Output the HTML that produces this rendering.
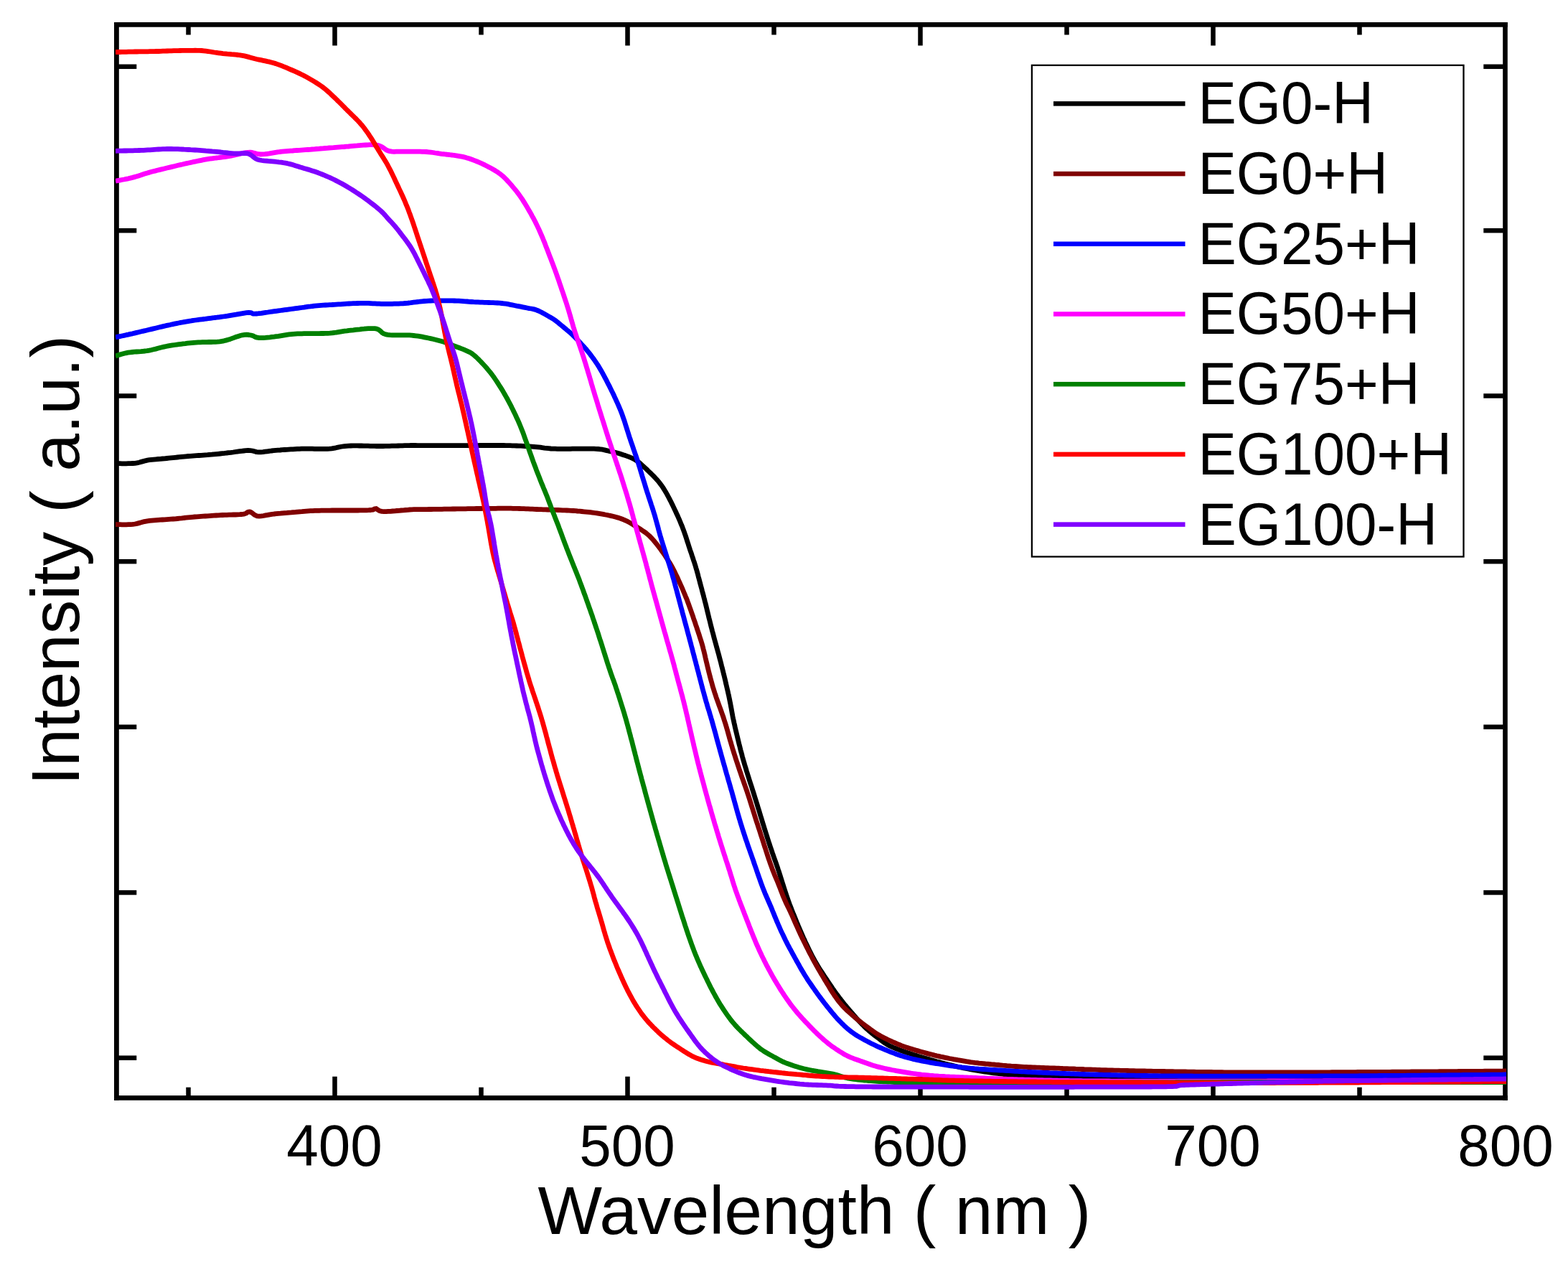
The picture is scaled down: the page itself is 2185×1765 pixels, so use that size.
<!DOCTYPE html>
<html><head><meta charset="utf-8"><title>Intensity vs Wavelength</title>
<style>html,body{margin:0;padding:0;background:#fff;}svg{display:block;}</style></head><body>
<svg width="2185" height="1765" viewBox="0 0 2185 1765">
<rect x="0" y="0" width="2185" height="1765" fill="#fff"/>
<g fill="#000">
<rect x="159" y="31" width="1941.8" height="6.7"/>
<rect x="159" y="1526.1" width="1941.8" height="6.7"/>
<rect x="159" y="31" width="6.8" height="1501.8"/>
<rect x="2094.2" y="31" width="6.6" height="1501.8"/>
<rect x="165" y="89.55" width="25.3" height="6.5"/>
<rect x="2067.3" y="89.55" width="27.5" height="6.5"/>
<rect x="165" y="317.95" width="25.3" height="6.5"/>
<rect x="2067.3" y="317.95" width="27.5" height="6.5"/>
<rect x="165" y="548.25" width="25.3" height="6.5"/>
<rect x="2067.3" y="548.25" width="27.5" height="6.5"/>
<rect x="165" y="778.95" width="25.3" height="6.5"/>
<rect x="2067.3" y="778.95" width="27.5" height="6.5"/>
<rect x="165" y="1009.45" width="25.3" height="6.5"/>
<rect x="2067.3" y="1009.45" width="27.5" height="6.5"/>
<rect x="165" y="1240.15" width="25.3" height="6.5"/>
<rect x="2067.3" y="1240.15" width="27.5" height="6.5"/>
<rect x="165" y="1470.45" width="25.3" height="6.5"/>
<rect x="2067.3" y="1470.45" width="27.5" height="6.5"/>
<rect x="259.25" y="1514.70" width="6.5" height="12.50"/>
<rect x="259.25" y="37" width="6.5" height="11.50"/>
<rect x="463.25" y="1499.70" width="6.5" height="27.50"/>
<rect x="463.25" y="37" width="6.5" height="26.50"/>
<rect x="667.25" y="1514.70" width="6.5" height="12.50"/>
<rect x="667.25" y="37" width="6.5" height="11.50"/>
<rect x="871.25" y="1499.70" width="6.5" height="27.50"/>
<rect x="871.25" y="37" width="6.5" height="26.50"/>
<rect x="1075.25" y="1514.70" width="6.5" height="12.50"/>
<rect x="1075.25" y="37" width="6.5" height="11.50"/>
<rect x="1279.25" y="1499.70" width="6.5" height="27.50"/>
<rect x="1279.25" y="37" width="6.5" height="26.50"/>
<rect x="1483.25" y="1514.70" width="6.5" height="12.50"/>
<rect x="1483.25" y="37" width="6.5" height="11.50"/>
<rect x="1687.25" y="1499.70" width="6.5" height="27.50"/>
<rect x="1687.25" y="37" width="6.5" height="26.50"/>
<rect x="1891.25" y="1514.70" width="6.5" height="12.50"/>
<rect x="1891.25" y="37" width="6.5" height="11.50"/>
</g>
<defs><clipPath id="pa"><rect x="161" y="37.6" width="1938" height="1488.6"/></clipPath></defs>
<g clip-path="url(#pa)" fill="none" stroke-width="6.8" stroke-linejoin="round" stroke-linecap="butt">
<path d="M160.9,645.7 163.9,645.7 166.9,645.7 169.9,645.8 172.9,645.8 175.9,645.8 178.9,645.7 181.9,645.7 184.9,645.5 187.9,645.3 190.9,644.9 193.8,644.2 196.7,643.4 199.6,642.6 202.5,641.8 205.4,641.2 208.4,640.7 211.4,640.4 214.3,640.1 217.3,639.8 220.3,639.5 223.3,639.3 226.3,639.0 229.3,638.8 232.3,638.5 235.3,638.2 238.2,637.9 241.2,637.6 244.2,637.3 247.2,637.0 250.2,636.7 253.2,636.4 256.2,636.1 259.1,635.8 262.1,635.5 265.1,635.3 268.1,635.1 271.1,634.9 274.1,634.7 277.1,634.5 280.1,634.3 283.1,634.1 286.1,633.9 289.1,633.7 292.1,633.4 295.0,633.2 298.0,632.9 301.0,632.6 304.0,632.3 307.0,632.0 310.0,631.7 312.9,631.4 315.9,631.0 318.9,630.7 321.9,630.4 324.9,630.0 327.8,629.5 330.8,629.1 333.8,628.7 336.8,628.3 339.7,628.0 342.7,627.7 345.7,627.5 348.7,627.6 351.7,628.0 354.6,628.8 357.5,629.6 360.4,629.9 363.4,629.8 366.4,629.6 369.4,629.2 372.4,628.8 375.4,628.4 378.3,628.0 381.3,627.7 384.3,627.4 387.3,627.2 390.3,627.0 393.3,626.7 396.3,626.5 399.3,626.3 402.3,626.1 405.3,625.9 408.2,625.8 411.2,625.6 414.2,625.4 417.2,625.3 420.2,625.2 423.2,625.1 426.2,625.1 429.2,625.1 432.2,625.2 435.2,625.2 438.2,625.3 441.2,625.3 444.2,625.4 447.2,625.4 450.2,625.4 453.2,625.4 456.2,625.3 459.2,625.1 462.2,624.8 465.2,624.3 468.1,623.8 471.1,623.1 474.0,622.5 476.9,622.0 479.9,621.6 482.9,621.3 485.9,621.1 488.9,621.0 491.9,620.9 494.9,620.9 497.9,620.9 500.9,621.0 503.9,621.0 506.9,621.1 509.9,621.1 512.9,621.2 515.9,621.3 518.9,621.3 521.9,621.4 524.9,621.5 527.9,621.5 530.9,621.5 533.9,621.5 536.9,621.4 539.9,621.4 542.9,621.3 545.9,621.2 548.9,621.2 551.9,621.1 554.9,621.0 557.9,620.9 560.9,620.8 563.9,620.7 566.9,620.6 569.9,620.6 572.9,620.5 575.9,620.5 578.9,620.5 581.9,620.6 584.9,620.6 587.9,620.6 590.9,620.6 593.9,620.6 596.9,620.6 599.9,620.6 602.9,620.6 605.9,620.6 608.9,620.6 611.9,620.6 614.9,620.6 617.9,620.6 620.9,620.6 623.9,620.6 626.9,620.6 629.9,620.6 632.9,620.6 635.9,620.6 638.9,620.6 641.9,620.6 644.9,620.6 647.9,620.6 650.9,620.6 653.9,620.6 656.9,620.6 659.9,620.6 662.9,620.6 665.9,620.6 668.9,620.5 671.9,620.5 674.9,620.5 677.9,620.5 680.9,620.5 683.9,620.5 686.9,620.5 689.9,620.5 692.9,620.5 695.9,620.5 698.9,620.5 701.9,620.5 704.9,620.6 707.9,620.6 710.9,620.7 713.9,620.8 716.9,620.9 719.9,621.0 722.9,621.1 725.9,621.2 728.9,621.4 731.9,621.6 734.8,621.7 737.8,621.9 740.8,622.1 743.8,622.3 746.8,622.6 749.8,622.9 752.8,623.2 755.7,623.7 758.7,624.1 761.7,624.4 764.7,624.7 767.7,625.0 770.7,625.1 773.7,625.2 776.7,625.3 779.7,625.3 782.7,625.3 785.7,625.3 788.7,625.3 791.7,625.3 794.7,625.3 797.7,625.2 800.7,625.2 803.7,625.2 806.7,625.1 809.7,625.1 812.7,625.1 815.7,625.1 818.7,625.1 821.7,625.1 824.7,625.1 827.7,625.2 830.7,625.3 833.7,625.5 836.6,625.8 839.6,626.2 842.5,626.9 845.4,627.6 848.4,628.3 851.3,628.9 854.2,629.5 857.2,630.2 860.1,631.0 862.9,631.8 865.8,632.7 868.6,633.7 871.5,634.6 874.3,635.6 877.1,636.7 879.9,637.8 882.6,639.1 885.2,640.6 887.7,642.2 890.1,644.0 892.5,645.9 894.7,647.9 896.9,649.9 899.1,651.9 901.3,654.0 903.4,656.1 905.6,658.2 907.8,660.3 909.9,662.4 912.0,664.5 914.0,666.7 916.0,668.9 917.9,671.2 919.8,673.6 921.6,676.0 923.3,678.4 924.9,680.9 926.5,683.5 928.0,686.0 929.5,688.6 930.9,691.3 932.3,693.9 933.7,696.6 935.1,699.3 936.4,702.0 937.7,704.6 939.0,707.4 940.3,710.1 941.6,712.8 942.8,715.5 944.1,718.2 945.3,721.0 946.5,723.7 947.7,726.5 948.8,729.3 950.0,732.0 951.1,734.8 952.1,737.6 953.2,740.4 954.2,743.3 955.2,746.1 956.1,748.9 957.0,751.8 957.9,754.6 958.9,757.5 959.8,760.4 960.7,763.2 961.6,766.1 962.6,768.9 963.6,771.7 964.5,774.6 965.5,777.4 966.4,780.3 967.4,783.1 968.3,786.0 969.2,788.8 970.0,791.7 970.9,794.6 971.7,797.5 972.5,800.4 973.2,803.3 974.0,806.2 974.8,809.1 975.5,812.0 976.3,814.9 977.1,817.8 977.9,820.7 978.6,823.6 979.4,826.5 980.2,829.4 980.9,832.3 981.7,835.2 982.4,838.1 983.2,841.0 983.9,843.9 984.6,846.8 985.3,849.7 986.0,852.6 986.7,855.5 987.4,858.5 988.1,861.4 988.9,864.3 989.6,867.2 990.3,870.1 991.0,873.0 991.8,875.9 992.5,878.8 993.3,881.7 994.1,884.6 994.8,887.5 995.6,890.4 996.4,893.3 997.2,896.2 998.0,899.1 998.8,902.0 999.6,904.9 1000.4,907.8 1001.2,910.7 1002.0,913.6 1002.7,916.5 1003.5,919.4 1004.3,922.3 1005.0,925.2 1005.7,928.1 1006.5,931.0 1007.2,933.9 1007.9,936.8 1008.6,939.7 1009.4,942.7 1010.1,945.6 1010.8,948.5 1011.4,951.4 1012.1,954.3 1012.8,957.2 1013.5,960.2 1014.2,963.1 1014.8,966.0 1015.5,968.9 1016.1,971.9 1016.7,974.8 1017.3,977.8 1017.9,980.7 1018.4,983.7 1019.0,986.6 1019.5,989.6 1020.0,992.5 1020.6,995.5 1021.1,998.4 1021.7,1001.3 1022.4,1004.3 1023.0,1007.2 1023.7,1010.1 1024.3,1013.0 1025.0,1016.0 1025.7,1018.9 1026.4,1021.8 1027.1,1024.7 1027.8,1027.6 1028.5,1030.6 1029.2,1033.5 1029.9,1036.4 1030.7,1039.3 1031.4,1042.2 1032.1,1045.1 1032.9,1048.0 1033.7,1050.9 1034.4,1053.8 1035.2,1056.7 1036.0,1059.6 1036.9,1062.5 1037.7,1065.3 1038.6,1068.2 1039.5,1071.1 1040.3,1074.0 1041.2,1076.8 1042.1,1079.7 1043.0,1082.5 1043.9,1085.4 1044.8,1088.3 1045.7,1091.1 1046.7,1094.0 1047.6,1096.8 1048.5,1099.7 1049.4,1102.6 1050.3,1105.4 1051.2,1108.3 1052.1,1111.2 1053.0,1114.0 1053.9,1116.9 1054.8,1119.7 1055.6,1122.6 1056.5,1125.5 1057.4,1128.3 1058.3,1131.2 1059.1,1134.1 1060.0,1137.0 1060.9,1139.8 1061.8,1142.7 1062.6,1145.6 1063.5,1148.4 1064.4,1151.3 1065.3,1154.2 1066.2,1157.0 1067.1,1159.9 1068.0,1162.8 1068.9,1165.6 1069.8,1168.5 1070.7,1171.3 1071.6,1174.2 1072.6,1177.0 1073.5,1179.9 1074.5,1182.7 1075.5,1185.6 1076.4,1188.4 1077.4,1191.2 1078.4,1194.1 1079.4,1196.9 1080.4,1199.7 1081.4,1202.5 1082.4,1205.4 1083.4,1208.2 1084.3,1211.1 1085.3,1213.9 1086.2,1216.8 1087.1,1219.6 1088.0,1222.5 1088.9,1225.3 1089.8,1228.2 1090.7,1231.1 1091.6,1233.9 1092.5,1236.8 1093.4,1239.6 1094.4,1242.5 1095.3,1245.3 1096.2,1248.2 1097.2,1251.0 1098.2,1253.9 1099.2,1256.7 1100.2,1259.5 1101.3,1262.3 1102.4,1265.1 1103.5,1267.9 1104.6,1270.7 1105.7,1273.5 1106.9,1276.2 1108.0,1279.0 1109.1,1281.8 1110.2,1284.6 1111.4,1287.3 1112.5,1290.1 1113.7,1292.9 1114.9,1295.6 1116.1,1298.4 1117.3,1301.1 1118.5,1303.9 1119.7,1306.6 1121.0,1309.3 1122.2,1312.1 1123.5,1314.8 1124.8,1317.5 1126.1,1320.2 1127.4,1322.9 1128.7,1325.6 1130.1,1328.3 1131.4,1330.9 1132.8,1333.6 1134.2,1336.2 1135.7,1338.9 1137.2,1341.5 1138.7,1344.0 1140.2,1346.6 1141.8,1349.2 1143.4,1351.7 1145.1,1354.2 1146.7,1356.7 1148.3,1359.2 1150.0,1361.7 1151.7,1364.2 1153.3,1366.7 1155.0,1369.2 1156.7,1371.7 1158.4,1374.2 1160.0,1376.7 1161.8,1379.1 1163.5,1381.6 1165.2,1384.0 1167.0,1386.4 1168.8,1388.8 1170.6,1391.2 1172.5,1393.6 1174.3,1395.9 1176.2,1398.3 1178.1,1400.6 1180.1,1402.9 1182.0,1405.2 1183.9,1407.4 1185.9,1409.7 1187.9,1412.0 1189.8,1414.2 1191.8,1416.5 1193.8,1418.7 1195.8,1421.0 1197.8,1423.2 1199.9,1425.4 1202.0,1427.5 1204.1,1429.7 1206.2,1431.7 1208.4,1433.8 1210.7,1435.8 1213.0,1437.7 1215.3,1439.6 1217.6,1441.5 1220.0,1443.3 1222.4,1445.1 1224.8,1446.9 1227.2,1448.7 1229.6,1450.5 1232.0,1452.3 1234.5,1453.9 1237.1,1455.5 1239.7,1456.9 1242.4,1458.2 1245.2,1459.4 1248.0,1460.5 1250.8,1461.6 1253.6,1462.7 1256.4,1463.7 1259.2,1464.7 1262.0,1465.7 1264.9,1466.7 1267.7,1467.6 1270.6,1468.5 1273.5,1469.4 1276.3,1470.3 1279.2,1471.2 1282.1,1472.0 1284.9,1472.9 1287.8,1473.7 1290.7,1474.6 1293.6,1475.4 1296.5,1476.2 1299.4,1477.0 1302.2,1477.9 1305.1,1478.7 1308.0,1479.4 1310.9,1480.2 1313.8,1481.0 1316.7,1481.8 1319.6,1482.5 1322.5,1483.2 1325.5,1483.9 1328.4,1484.6 1331.3,1485.3 1334.2,1486.0 1337.2,1486.6 1340.1,1487.2 1343.0,1487.9 1346.0,1488.4 1348.9,1489.0 1351.9,1489.6 1354.8,1490.1 1357.8,1490.7 1360.7,1491.2 1363.7,1491.7 1366.6,1492.2 1369.6,1492.6 1372.6,1493.1 1375.5,1493.5 1378.5,1494.0 1381.5,1494.4 1384.4,1494.8 1387.4,1495.1 1390.4,1495.5 1393.4,1495.9 1396.4,1496.2 1399.3,1496.5 1402.3,1496.8 1405.3,1497.0 1408.3,1497.3 1411.3,1497.5 1414.3,1497.7 1417.3,1497.9 1420.3,1498.0 1423.3,1498.2 1426.3,1498.4 1429.3,1498.5 1432.3,1498.7 1435.3,1498.8 1438.3,1498.9 1441.3,1499.1 1444.3,1499.2 1447.3,1499.4 1450.2,1499.5 1453.2,1499.7 1456.2,1499.8 1459.2,1500.0 1462.2,1500.2 1465.2,1500.4 1468.2,1500.5 1471.2,1500.7 1474.2,1500.8 1477.2,1501.0 1480.2,1501.1 1483.2,1501.2 1486.2,1501.3 1489.2,1501.5 1492.2,1501.5 1495.2,1501.6 1498.2,1501.7 1501.2,1501.8 1504.2,1501.9 1507.2,1501.9 1510.2,1502.0 1513.2,1502.1 1516.2,1502.1 1519.2,1502.1 1522.2,1502.2 1525.2,1502.2 1528.2,1502.3 1531.2,1502.3 1534.2,1502.4 1537.2,1502.4 1540.2,1502.4 1543.2,1502.5 1546.2,1502.5 1549.2,1502.5 1552.2,1502.6 1555.2,1502.6 1558.2,1502.6 1561.2,1502.6 1564.2,1502.7 1567.2,1502.7 1570.2,1502.7 1573.2,1502.7 1576.2,1502.8 1579.2,1502.8 1582.2,1502.8 1585.2,1502.8 1588.2,1502.8 1591.2,1502.8 1594.2,1502.9 1597.2,1502.9 1600.2,1502.9 1603.2,1502.9 1606.2,1502.9 1609.2,1502.9 1612.2,1502.9 1615.2,1502.9 1618.2,1502.9 1621.2,1502.9 1624.2,1502.9 1627.2,1503.0 1630.2,1503.0 1633.2,1503.0 1636.2,1503.0 1639.2,1503.0 1642.2,1503.0 1645.2,1503.0 1648.2,1503.0 1651.2,1503.0 1654.2,1503.0 1657.2,1503.0 1660.2,1503.0 1663.2,1503.0 1666.2,1503.0 1669.2,1503.0 1672.2,1503.0 1675.2,1503.0 1678.2,1503.0 1681.2,1503.0 1684.2,1503.0 1687.2,1503.0 1690.2,1503.0 1693.2,1503.0 1696.2,1503.0 1699.2,1503.0 1702.2,1503.0 1705.2,1503.0 1708.2,1503.0 1711.2,1503.0 1714.2,1503.0 1717.2,1503.0 1720.2,1503.0 1723.2,1503.0 1726.2,1503.0 1729.2,1503.0 1732.2,1503.0 1735.2,1503.0 1738.2,1503.0 1741.2,1503.0 1744.2,1502.9 1747.2,1502.9 1750.2,1502.9 1753.2,1502.9 1756.2,1502.9 1759.2,1502.9 1762.2,1502.9 1765.2,1502.9 1768.2,1502.9 1771.2,1502.9 1774.2,1502.9 1777.2,1502.9 1780.2,1502.9 1783.2,1502.9 1786.2,1502.9 1789.2,1502.9 1792.2,1502.9 1795.2,1502.8 1798.2,1502.8 1801.2,1502.8 1804.2,1502.8 1807.2,1502.8 1810.2,1502.8 1813.2,1502.8 1816.2,1502.8 1819.2,1502.8 1822.2,1502.8 1825.2,1502.8 1828.2,1502.8 1831.2,1502.8 1834.2,1502.8 1837.2,1502.7 1840.2,1502.7 1843.2,1502.7 1846.2,1502.7 1849.2,1502.7 1852.2,1502.7 1855.2,1502.7 1858.2,1502.7 1861.2,1502.7 1864.2,1502.7 1867.2,1502.7 1870.2,1502.7 1873.2,1502.7 1876.2,1502.6 1879.2,1502.6 1882.2,1502.6 1885.2,1502.6 1888.2,1502.6 1891.2,1502.6 1894.2,1502.6 1897.2,1502.6 1900.2,1502.6 1903.2,1502.6 1906.2,1502.6 1909.2,1502.6 1912.2,1502.5 1915.2,1502.5 1918.2,1502.5 1921.2,1502.5 1924.2,1502.5 1927.2,1502.5 1930.2,1502.5 1933.2,1502.5 1936.2,1502.5 1939.2,1502.5 1942.2,1502.5 1945.2,1502.5 1948.2,1502.4 1951.2,1502.4 1954.2,1502.4 1957.2,1502.4 1960.2,1502.4 1963.2,1502.4 1966.2,1502.4 1969.2,1502.4 1972.2,1502.4 1975.2,1502.4 1978.2,1502.4 1981.2,1502.3 1984.2,1502.3 1987.2,1502.3 1990.2,1502.3 1993.2,1502.3 1996.2,1502.3 1999.2,1502.3 2002.2,1502.3 2005.2,1502.3 2008.2,1502.3 2011.2,1502.3 2014.2,1502.2 2017.2,1502.2 2020.2,1502.2 2023.2,1502.2 2026.2,1502.2 2029.2,1502.2 2032.2,1502.2 2035.2,1502.2 2038.2,1502.2 2041.2,1502.2 2044.2,1502.2 2047.2,1502.1 2050.2,1502.1 2053.2,1502.1 2056.2,1502.1 2059.2,1502.1 2062.2,1502.1 2065.2,1502.1 2068.2,1502.1 2071.2,1502.1 2074.2,1502.1 2077.2,1502.1 2080.2,1502.1 2083.2,1502.0 2086.2,1502.0 2089.2,1502.0 2092.2,1502.0 2095.2,1502.0 2098.2,1502.0 2100.0,1502.0" stroke="#000000"/>
<path d="M161.0,730.7 164.0,730.7 167.0,730.7 170.0,730.8 173.0,730.8 176.0,730.8 179.0,730.7 182.0,730.6 185.0,730.4 188.0,730.0 190.9,729.4 193.8,728.6 196.7,727.8 199.6,726.9 202.5,726.3 205.4,725.8 208.4,725.4 211.4,725.1 214.4,724.8 217.4,724.6 220.4,724.4 223.4,724.2 226.3,724.0 229.3,723.8 232.3,723.6 235.3,723.4 238.3,723.2 241.3,723.0 244.3,722.8 247.3,722.5 250.3,722.2 253.3,721.9 256.2,721.5 259.2,721.2 262.2,720.9 265.2,720.6 268.2,720.3 271.2,720.0 274.2,719.8 277.2,719.6 280.1,719.4 283.1,719.2 286.1,719.0 289.1,718.8 292.1,718.6 295.1,718.4 298.1,718.2 301.1,718.0 304.1,717.9 307.1,717.7 310.1,717.5 313.1,717.4 316.1,717.3 319.1,717.2 322.1,717.1 325.1,717.0 328.1,717.0 331.1,716.8 334.1,716.7 337.1,716.5 340.0,716.1 342.8,715.1 345.3,713.4 348.1,712.8 350.7,714.1 353.0,715.9 355.5,717.7 358.2,718.8 361.2,719.1 364.1,718.9 367.1,718.5 370.0,717.9 373.0,717.4 375.9,716.8 378.9,716.4 381.9,716.0 384.9,715.7 387.9,715.4 390.8,715.2 393.8,714.9 396.8,714.6 399.8,714.4 402.8,714.1 405.8,713.9 408.8,713.6 411.8,713.4 414.8,713.1 417.7,712.8 420.7,712.6 423.7,712.3 426.7,712.1 429.7,711.9 432.7,711.7 435.7,711.6 438.7,711.4 441.7,711.3 444.7,711.3 447.7,711.2 450.7,711.1 453.7,711.1 456.7,711.1 459.7,711.1 462.7,711.0 465.7,711.0 468.7,711.0 471.7,711.0 474.7,711.0 477.7,711.0 480.7,711.0 483.7,711.0 486.7,711.0 489.7,711.0 492.7,711.0 495.7,711.0 498.7,711.0 501.7,710.9 504.7,710.9 507.7,710.9 510.7,710.8 513.7,710.7 516.7,710.5 519.6,710.1 522.1,708.9 524.2,708.5 526.6,710.3 529.2,711.7 532.1,712.4 535.1,712.6 538.0,712.6 541.0,712.4 544.0,712.3 547.0,712.0 550.0,711.8 553.0,711.5 556.0,711.3 559.0,711.0 562.0,710.8 565.0,710.5 568.0,710.3 570.9,710.0 573.9,709.9 576.9,709.7 579.9,709.6 582.9,709.6 585.9,709.6 588.9,709.6 591.9,709.6 594.9,709.6 597.9,709.5 600.9,709.5 603.9,709.4 606.9,709.4 609.9,709.4 612.9,709.3 615.9,709.3 618.9,709.2 621.9,709.2 624.9,709.1 627.9,709.1 630.9,709.0 633.9,709.0 636.9,708.9 639.9,708.9 642.9,708.8 645.9,708.8 648.9,708.8 651.9,708.7 654.9,708.7 657.9,708.6 660.9,708.6 663.9,708.5 666.9,708.5 669.9,708.5 672.9,708.4 675.9,708.4 678.9,708.4 681.9,708.3 684.9,708.3 687.9,708.3 690.9,708.3 693.9,708.2 696.9,708.2 699.9,708.2 702.9,708.2 705.9,708.2 708.9,708.2 711.9,708.2 714.9,708.3 717.9,708.3 720.9,708.4 723.9,708.5 726.9,708.6 729.9,708.7 732.9,708.8 735.9,708.9 738.9,709.1 741.9,709.2 744.9,709.4 747.9,709.5 750.9,709.6 753.9,709.7 756.9,709.8 759.9,709.9 762.9,710.0 765.9,710.1 768.9,710.2 771.9,710.3 774.9,710.4 777.9,710.5 780.9,710.6 783.9,710.8 786.9,710.9 789.9,711.0 792.9,711.2 795.9,711.4 798.9,711.5 801.9,711.7 804.8,712.0 807.8,712.2 810.8,712.5 813.8,712.8 816.8,713.1 819.8,713.4 822.8,713.7 825.7,714.1 828.7,714.5 831.7,714.9 834.6,715.4 837.6,715.9 840.6,716.4 843.5,717.0 846.4,717.5 849.4,718.2 852.3,718.8 855.2,719.5 858.1,720.3 861.0,721.1 863.9,722.0 866.7,723.0 869.5,724.1 872.2,725.3 874.9,726.6 877.6,728.1 880.2,729.6 882.7,731.2 885.2,732.8 887.8,734.3 890.3,735.9 892.9,737.5 895.4,739.2 897.9,740.9 900.3,742.6 902.6,744.5 904.9,746.5 907.0,748.6 909.0,750.8 911.0,753.0 912.9,755.3 914.8,757.7 916.6,760.0 918.5,762.4 920.3,764.8 922.0,767.2 923.8,769.7 925.5,772.1 927.2,774.6 928.8,777.1 930.4,779.6 932.0,782.2 933.6,784.7 935.1,787.3 936.6,789.9 938.0,792.5 939.4,795.2 940.7,797.9 942.0,800.6 943.3,803.3 944.6,806.0 945.8,808.8 947.0,811.5 948.2,814.2 949.5,817.0 950.7,819.7 951.9,822.5 953.0,825.2 954.2,828.0 955.3,830.8 956.5,833.5 957.6,836.3 958.6,839.1 959.7,842.0 960.7,844.8 961.7,847.6 962.7,850.4 963.7,853.3 964.7,856.1 965.7,858.9 966.6,861.8 967.6,864.6 968.6,867.4 969.5,870.3 970.5,873.1 971.4,876.0 972.4,878.8 973.3,881.7 974.3,884.5 975.2,887.4 976.1,890.2 977.0,893.1 977.9,896.0 978.7,898.8 979.5,901.7 980.2,904.6 981.0,907.5 981.7,910.5 982.4,913.4 983.0,916.3 983.7,919.2 984.4,922.1 985.1,925.1 985.8,928.0 986.5,930.9 987.2,933.8 987.9,936.7 988.7,939.6 989.4,942.5 990.2,945.4 991.0,948.3 991.8,951.2 992.6,954.1 993.4,957.0 994.3,959.8 995.2,962.7 996.1,965.6 997.1,968.4 998.0,971.3 999.0,974.1 1000.0,976.9 1001.0,979.7 1002.0,982.6 1003.1,985.4 1004.1,988.2 1005.1,991.0 1006.1,993.8 1007.1,996.7 1008.1,999.5 1009.0,1002.4 1009.9,1005.2 1010.8,1008.1 1011.7,1010.9 1012.5,1013.8 1013.4,1016.7 1014.2,1019.6 1015.0,1022.5 1015.8,1025.4 1016.6,1028.3 1017.4,1031.2 1018.3,1034.0 1019.1,1036.9 1020.0,1039.8 1020.8,1042.7 1021.7,1045.5 1022.6,1048.4 1023.5,1051.2 1024.4,1054.1 1025.3,1057.0 1026.2,1059.8 1027.2,1062.7 1028.1,1065.5 1029.1,1068.4 1030.0,1071.2 1031.0,1074.1 1032.0,1076.9 1032.9,1079.7 1033.9,1082.6 1034.9,1085.4 1035.9,1088.2 1036.9,1091.0 1037.9,1093.9 1038.9,1096.7 1039.9,1099.5 1040.9,1102.4 1041.8,1105.2 1042.8,1108.1 1043.7,1110.9 1044.6,1113.8 1045.5,1116.6 1046.4,1119.5 1047.3,1122.4 1048.2,1125.2 1049.1,1128.1 1050.0,1131.0 1050.9,1133.8 1051.8,1136.7 1052.7,1139.5 1053.6,1142.4 1054.5,1145.2 1055.5,1148.1 1056.4,1151.0 1057.3,1153.8 1058.3,1156.7 1059.2,1159.5 1060.1,1162.4 1061.0,1165.2 1062.0,1168.1 1062.9,1170.9 1063.8,1173.8 1064.7,1176.6 1065.6,1179.5 1066.6,1182.3 1067.5,1185.2 1068.4,1188.1 1069.3,1190.9 1070.3,1193.8 1071.2,1196.6 1072.2,1199.4 1073.2,1202.3 1074.2,1205.1 1075.2,1207.9 1076.2,1210.7 1077.3,1213.5 1078.4,1216.3 1079.5,1219.1 1080.7,1221.8 1081.9,1224.6 1083.1,1227.4 1084.2,1230.1 1085.3,1232.9 1086.4,1235.7 1087.5,1238.5 1088.5,1241.3 1089.6,1244.1 1090.7,1246.9 1091.8,1249.7 1093.0,1252.4 1094.2,1255.2 1095.4,1257.9 1096.7,1260.6 1098.0,1263.3 1099.4,1266.0 1100.7,1268.7 1101.9,1271.4 1103.2,1274.1 1104.4,1276.8 1105.6,1279.6 1106.8,1282.3 1108.0,1285.1 1109.2,1287.8 1110.5,1290.6 1111.7,1293.3 1112.9,1296.0 1114.2,1298.8 1115.4,1301.5 1116.7,1304.2 1118.0,1306.9 1119.3,1309.6 1120.6,1312.3 1122.0,1315.0 1123.3,1317.7 1124.6,1320.4 1126.0,1323.0 1127.3,1325.7 1128.7,1328.4 1130.1,1331.0 1131.5,1333.7 1132.9,1336.3 1134.3,1339.0 1135.8,1341.6 1137.2,1344.2 1138.7,1346.8 1140.2,1349.5 1141.7,1352.0 1143.2,1354.6 1144.7,1357.2 1146.3,1359.8 1147.8,1362.4 1149.3,1364.9 1150.9,1367.5 1152.5,1370.1 1154.0,1372.6 1155.6,1375.2 1157.1,1377.8 1158.7,1380.3 1160.3,1382.8 1162.0,1385.3 1163.6,1387.8 1165.4,1390.3 1167.1,1392.7 1168.9,1395.1 1170.8,1397.4 1172.7,1399.7 1174.7,1401.9 1176.8,1404.1 1178.9,1406.2 1181.1,1408.3 1183.3,1410.3 1185.6,1412.3 1187.8,1414.3 1190.1,1416.3 1192.3,1418.2 1194.7,1420.1 1197.0,1422.0 1199.4,1423.8 1201.8,1425.6 1204.1,1427.4 1206.5,1429.2 1209.0,1431.0 1211.4,1432.8 1213.8,1434.6 1216.2,1436.3 1218.7,1438.0 1221.2,1439.7 1223.8,1441.3 1226.4,1442.8 1229.0,1444.2 1231.6,1445.6 1234.3,1446.9 1237.0,1448.2 1239.8,1449.5 1242.5,1450.7 1245.2,1452.0 1248.0,1453.2 1250.7,1454.4 1253.5,1455.5 1256.3,1456.6 1259.1,1457.6 1262.0,1458.6 1264.8,1459.5 1267.7,1460.4 1270.5,1461.3 1273.4,1462.2 1276.3,1463.1 1279.2,1463.9 1282.0,1464.7 1284.9,1465.5 1287.8,1466.3 1290.7,1467.1 1293.6,1467.9 1296.5,1468.6 1299.4,1469.3 1302.3,1470.1 1305.3,1470.8 1308.2,1471.4 1311.1,1472.1 1314.1,1472.7 1317.0,1473.3 1319.9,1473.9 1322.9,1474.5 1325.8,1475.0 1328.8,1475.6 1331.7,1476.1 1334.7,1476.7 1337.6,1477.2 1340.6,1477.7 1343.5,1478.2 1346.5,1478.7 1349.5,1479.1 1352.4,1479.6 1355.4,1480.0 1358.4,1480.4 1361.4,1480.7 1364.3,1481.1 1367.3,1481.4 1370.3,1481.7 1373.3,1482.0 1376.3,1482.2 1379.3,1482.5 1382.3,1482.8 1385.2,1483.0 1388.2,1483.3 1391.2,1483.5 1394.2,1483.8 1397.2,1484.1 1400.2,1484.3 1403.2,1484.6 1406.2,1484.8 1409.2,1485.1 1412.2,1485.3 1415.1,1485.5 1418.1,1485.7 1421.1,1485.9 1424.1,1486.1 1427.1,1486.3 1430.1,1486.4 1433.1,1486.6 1436.1,1486.7 1439.1,1486.9 1442.1,1487.0 1445.1,1487.1 1448.1,1487.2 1451.1,1487.4 1454.1,1487.5 1457.1,1487.6 1460.1,1487.7 1463.1,1487.8 1466.1,1487.9 1469.1,1488.0 1472.1,1488.1 1475.1,1488.2 1478.1,1488.3 1481.1,1488.5 1484.1,1488.6 1487.1,1488.7 1490.1,1488.8 1493.1,1488.9 1496.1,1489.0 1499.1,1489.2 1502.1,1489.3 1505.1,1489.4 1508.1,1489.5 1511.0,1489.7 1514.0,1489.8 1517.0,1489.9 1520.0,1490.0 1523.0,1490.1 1526.0,1490.2 1529.0,1490.4 1532.0,1490.5 1535.0,1490.6 1538.0,1490.7 1541.0,1490.7 1544.0,1490.8 1547.0,1490.9 1550.0,1491.0 1553.0,1491.1 1556.0,1491.2 1559.0,1491.2 1562.0,1491.3 1565.0,1491.4 1568.0,1491.4 1571.0,1491.5 1574.0,1491.6 1577.0,1491.7 1580.0,1491.7 1583.0,1491.8 1586.0,1491.8 1589.0,1491.9 1592.0,1492.0 1595.0,1492.0 1598.0,1492.1 1601.0,1492.1 1604.0,1492.2 1607.0,1492.3 1610.0,1492.3 1613.0,1492.4 1616.0,1492.4 1619.0,1492.5 1622.0,1492.5 1625.0,1492.6 1628.0,1492.6 1631.0,1492.7 1634.0,1492.7 1637.0,1492.8 1640.0,1492.8 1643.0,1492.9 1646.0,1492.9 1649.0,1493.0 1652.0,1493.0 1655.0,1493.1 1658.0,1493.1 1661.0,1493.2 1664.0,1493.2 1667.0,1493.3 1670.0,1493.3 1673.0,1493.3 1676.0,1493.4 1679.0,1493.4 1682.0,1493.5 1685.0,1493.5 1688.0,1493.5 1691.0,1493.6 1694.0,1493.6 1697.0,1493.7 1700.0,1493.7 1703.0,1493.7 1706.0,1493.8 1709.0,1493.8 1712.0,1493.8 1715.0,1493.8 1718.0,1493.9 1721.0,1493.9 1724.0,1493.9 1727.0,1493.9 1730.0,1493.9 1733.0,1493.9 1736.0,1494.0 1739.0,1494.0 1742.0,1494.0 1745.0,1494.0 1748.0,1494.0 1751.0,1494.0 1754.0,1494.0 1757.0,1494.0 1760.0,1494.0 1763.0,1494.0 1766.0,1494.0 1769.0,1494.0 1772.0,1494.0 1775.0,1494.0 1778.0,1494.0 1781.0,1494.0 1784.0,1494.0 1787.0,1494.0 1790.0,1494.0 1793.0,1494.0 1796.0,1494.0 1799.0,1494.0 1802.0,1494.0 1805.0,1494.0 1808.0,1493.9 1811.0,1493.9 1814.0,1493.9 1817.0,1493.9 1820.0,1493.9 1823.0,1493.9 1826.0,1493.9 1829.0,1493.9 1832.0,1493.9 1835.0,1493.8 1838.0,1493.8 1841.0,1493.8 1844.0,1493.8 1847.0,1493.8 1850.0,1493.8 1853.0,1493.8 1856.0,1493.7 1859.0,1493.7 1862.0,1493.7 1865.0,1493.7 1868.0,1493.7 1871.0,1493.7 1874.0,1493.6 1877.0,1493.6 1880.0,1493.6 1883.0,1493.6 1886.0,1493.6 1889.0,1493.6 1892.0,1493.5 1895.0,1493.5 1898.0,1493.5 1901.0,1493.5 1904.0,1493.5 1907.0,1493.5 1910.0,1493.4 1913.0,1493.4 1916.0,1493.4 1919.0,1493.4 1922.0,1493.4 1925.0,1493.3 1928.0,1493.3 1931.0,1493.3 1934.0,1493.3 1937.0,1493.3 1940.0,1493.2 1943.0,1493.2 1946.0,1493.2 1949.0,1493.2 1952.0,1493.2 1955.0,1493.1 1958.0,1493.1 1961.0,1493.1 1964.0,1493.1 1967.0,1493.0 1970.0,1493.0 1973.0,1493.0 1976.0,1493.0 1979.0,1493.0 1982.0,1492.9 1985.0,1492.9 1988.0,1492.9 1991.0,1492.9 1994.0,1492.8 1997.0,1492.8 2000.0,1492.8 2003.0,1492.8 2006.0,1492.7 2009.0,1492.7 2012.0,1492.7 2015.0,1492.7 2018.0,1492.7 2021.0,1492.6 2024.0,1492.6 2027.0,1492.6 2030.0,1492.6 2033.0,1492.5 2036.0,1492.5 2039.0,1492.5 2042.0,1492.5 2045.0,1492.4 2048.0,1492.4 2051.0,1492.4 2054.0,1492.4 2057.0,1492.3 2060.0,1492.3 2063.0,1492.3 2066.0,1492.3 2069.0,1492.2 2072.0,1492.2 2075.0,1492.2 2078.0,1492.2 2081.0,1492.1 2084.0,1492.1 2087.0,1492.1 2090.0,1492.1 2093.0,1492.1 2096.0,1492.0 2099.0,1492.0 2100.0,1492.0" stroke="#800000"/>
<path d="M161.0,469.8 163.9,469.2 166.9,468.6 169.8,468.0 172.8,467.4 175.7,466.7 178.6,466.1 181.5,465.4 184.5,464.8 187.4,464.1 190.3,463.4 193.2,462.7 196.1,462.0 199.1,461.3 202.0,460.7 204.9,460.0 207.8,459.3 210.7,458.6 213.7,457.9 216.6,457.2 219.5,456.5 222.4,455.8 225.3,455.1 228.3,454.4 231.2,453.7 234.1,453.1 237.0,452.5 240.0,451.8 242.9,451.2 245.8,450.6 248.8,450.0 251.7,449.4 254.7,448.9 257.6,448.3 260.6,447.8 263.5,447.3 266.5,446.9 269.5,446.4 272.4,446.0 275.4,445.6 278.4,445.2 281.4,444.8 284.4,444.5 287.3,444.1 290.3,443.7 293.3,443.3 296.2,442.9 299.2,442.5 302.2,442.2 305.2,441.8 308.2,441.4 311.1,441.0 314.1,440.6 317.1,440.2 320.0,439.7 323.0,439.2 325.9,438.7 328.9,438.2 331.9,437.6 334.8,437.1 337.8,436.6 340.7,436.1 343.7,435.7 346.7,435.4 349.6,435.6 352.3,437.0 355.3,437.2 358.3,437.0 361.2,436.6 364.2,436.3 367.2,435.8 370.2,435.4 373.1,435.0 376.1,434.5 379.1,434.1 382.0,433.7 385.0,433.3 388.0,432.9 391.0,432.5 393.9,432.1 396.9,431.7 399.9,431.3 402.9,430.9 405.8,430.5 408.8,430.1 411.8,429.7 414.7,429.3 417.7,428.9 420.7,428.5 423.7,428.1 426.6,427.6 429.6,427.2 432.6,426.9 435.6,426.5 438.5,426.2 441.5,425.9 444.5,425.6 447.5,425.4 450.5,425.2 453.5,425.0 456.5,424.8 459.5,424.6 462.5,424.5 465.5,424.3 468.5,424.1 471.5,423.9 474.5,423.8 477.4,423.6 480.4,423.4 483.4,423.2 486.4,423.0 489.4,422.9 492.4,422.7 495.4,422.6 498.4,422.5 501.4,422.4 504.4,422.3 507.4,422.3 510.4,422.3 513.4,422.4 516.4,422.6 519.4,422.8 522.4,422.9 525.4,423.1 528.4,423.2 531.4,423.3 534.4,423.3 537.4,423.3 540.4,423.3 543.4,423.3 546.4,423.3 549.4,423.2 552.4,423.2 555.4,423.1 558.4,422.9 561.4,422.8 564.4,422.5 567.4,422.3 570.3,422.0 573.3,421.6 576.3,421.2 579.3,420.8 582.3,420.5 585.2,420.1 588.2,419.8 591.2,419.5 594.2,419.3 597.2,419.1 600.2,419.0 603.2,418.9 606.2,418.9 609.2,418.8 612.2,418.8 615.2,418.8 618.2,418.8 621.2,418.8 624.2,418.8 627.2,418.9 630.2,418.9 633.2,419.0 636.2,419.1 639.2,419.2 642.2,419.4 645.2,419.6 648.2,419.8 651.1,420.0 654.1,420.3 657.1,420.5 660.1,420.7 663.1,420.8 666.1,420.9 669.1,421.1 672.1,421.2 675.1,421.3 678.1,421.4 681.1,421.5 684.1,421.6 687.1,421.7 690.1,421.9 693.1,422.0 696.1,422.2 699.1,422.5 702.1,422.8 705.0,423.2 708.0,423.7 710.9,424.3 713.9,424.9 716.8,425.5 719.8,426.1 722.7,426.6 725.6,427.2 728.6,427.8 731.5,428.4 734.5,429.0 737.4,429.6 740.4,430.0 743.3,430.6 746.2,431.4 749.0,432.5 751.8,433.7 754.5,435.0 757.1,436.4 759.7,437.9 762.3,439.4 764.9,440.9 767.5,442.3 770.1,443.9 772.6,445.5 775.0,447.3 777.4,449.2 779.7,451.1 782.0,453.0 784.3,454.9 786.6,456.8 788.9,458.7 791.2,460.7 793.5,462.6 795.7,464.6 797.9,466.6 800.1,468.7 802.2,470.8 804.3,473.0 806.4,475.2 808.4,477.4 810.4,479.6 812.5,481.8 814.5,484.0 816.5,486.2 818.4,488.6 820.3,490.9 822.1,493.2 823.9,495.6 825.7,498.0 827.5,500.4 829.2,502.9 830.9,505.4 832.6,507.9 834.2,510.4 835.7,513.0 837.2,515.5 838.7,518.2 840.2,520.8 841.6,523.4 843.0,526.1 844.4,528.7 845.8,531.4 847.1,534.1 848.5,536.7 849.9,539.4 851.2,542.1 852.5,544.8 853.9,547.5 855.2,550.2 856.4,552.9 857.7,555.6 858.9,558.3 860.2,561.1 861.4,563.8 862.6,566.6 863.7,569.3 864.9,572.1 866.0,574.9 867.0,577.7 868.0,580.5 869.0,583.3 870.0,586.2 870.9,589.0 871.8,591.9 872.7,594.8 873.6,597.6 874.5,600.5 875.4,603.3 876.3,606.2 877.2,609.1 878.2,611.9 879.1,614.7 880.1,617.6 881.1,620.4 882.1,623.3 883.0,626.1 884.0,628.9 885.0,631.8 886.0,634.6 886.9,637.4 887.9,640.3 888.8,643.2 889.7,646.0 890.6,648.9 891.5,651.7 892.3,654.6 893.2,657.5 894.1,660.4 894.9,663.2 895.8,666.1 896.7,669.0 897.6,671.8 898.5,674.7 899.3,677.6 900.2,680.4 901.1,683.3 902.0,686.2 903.0,689.0 903.9,691.9 904.8,694.7 905.8,697.6 906.7,700.4 907.6,703.3 908.6,706.1 909.5,708.9 910.4,711.8 911.3,714.7 912.2,717.5 913.0,720.4 913.8,723.3 914.6,726.2 915.4,729.1 916.2,732.0 917.0,734.9 917.7,737.8 918.5,740.7 919.3,743.6 920.1,746.5 921.0,749.3 921.8,752.2 922.7,755.1 923.6,758.0 924.5,760.8 925.4,763.7 926.3,766.6 927.2,769.4 928.1,772.3 929.0,775.1 929.9,778.0 930.8,780.9 931.7,783.7 932.6,786.6 933.5,789.4 934.4,792.3 935.2,795.2 936.1,798.1 936.9,800.9 937.7,803.8 938.6,806.7 939.4,809.6 940.2,812.5 940.9,815.4 941.7,818.3 942.5,821.2 943.3,824.1 944.0,827.0 944.8,829.9 945.6,832.8 946.3,835.7 947.1,838.6 947.9,841.5 948.6,844.4 949.4,847.3 950.2,850.2 950.9,853.1 951.7,856.0 952.5,858.9 953.3,861.8 954.0,864.7 954.8,867.6 955.6,870.5 956.4,873.4 957.2,876.3 957.9,879.2 958.7,882.1 959.5,885.0 960.3,887.9 961.0,890.8 961.8,893.6 962.6,896.5 963.3,899.4 964.1,902.3 964.9,905.2 965.6,908.1 966.4,911.1 967.2,914.0 967.9,916.9 968.7,919.8 969.5,922.7 970.2,925.6 971.0,928.5 971.7,931.4 972.5,934.3 973.3,937.2 974.0,940.1 974.8,943.0 975.5,945.9 976.3,948.8 977.0,951.7 977.8,954.6 978.5,957.5 979.3,960.4 980.1,963.3 980.9,966.2 981.7,969.1 982.5,972.0 983.3,974.9 984.1,977.7 985.0,980.6 985.8,983.5 986.7,986.4 987.6,989.2 988.5,992.1 989.3,995.0 990.2,997.8 991.0,1000.7 991.9,1003.6 992.7,1006.5 993.5,1009.4 994.3,1012.3 995.1,1015.1 995.9,1018.0 996.7,1020.9 997.5,1023.8 998.2,1026.7 999.0,1029.6 999.8,1032.5 1000.6,1035.4 1001.4,1038.3 1002.2,1041.2 1003.0,1044.1 1003.8,1047.0 1004.6,1049.9 1005.4,1052.8 1006.2,1055.7 1007.0,1058.5 1007.8,1061.4 1008.6,1064.3 1009.5,1067.2 1010.3,1070.1 1011.1,1073.0 1011.9,1075.9 1012.7,1078.7 1013.6,1081.6 1014.4,1084.5 1015.2,1087.4 1016.1,1090.3 1016.9,1093.2 1017.7,1096.0 1018.5,1098.9 1019.4,1101.8 1020.2,1104.7 1021.0,1107.6 1021.8,1110.5 1022.6,1113.4 1023.4,1116.3 1024.2,1119.2 1025.0,1122.0 1025.8,1124.9 1026.6,1127.8 1027.4,1130.7 1028.2,1133.6 1029.1,1136.5 1029.9,1139.4 1030.8,1142.2 1031.6,1145.1 1032.5,1148.0 1033.4,1150.8 1034.3,1153.7 1035.2,1156.6 1036.1,1159.4 1037.1,1162.3 1038.0,1165.1 1038.9,1168.0 1039.9,1170.8 1040.9,1173.6 1041.8,1176.5 1042.8,1179.3 1043.8,1182.1 1044.8,1185.0 1045.8,1187.8 1046.8,1190.6 1047.8,1193.5 1048.8,1196.3 1049.8,1199.1 1050.7,1202.0 1051.7,1204.8 1052.7,1207.6 1053.7,1210.5 1054.6,1213.3 1055.6,1216.2 1056.6,1219.0 1057.6,1221.8 1058.6,1224.7 1059.6,1227.5 1060.6,1230.3 1061.6,1233.1 1062.7,1235.9 1063.8,1238.7 1064.9,1241.5 1066.0,1244.3 1067.2,1247.0 1068.4,1249.8 1069.6,1252.5 1070.8,1255.3 1072.0,1258.0 1073.2,1260.8 1074.4,1263.5 1075.5,1266.3 1076.6,1269.1 1077.8,1271.9 1078.9,1274.6 1080.0,1277.4 1081.2,1280.2 1082.3,1283.0 1083.5,1285.7 1084.7,1288.5 1085.9,1291.2 1087.1,1294.0 1088.3,1296.7 1089.6,1299.4 1090.9,1302.1 1092.2,1304.8 1093.5,1307.5 1094.8,1310.2 1096.2,1312.9 1097.5,1315.6 1098.9,1318.2 1100.3,1320.9 1101.8,1323.5 1103.2,1326.1 1104.6,1328.8 1106.1,1331.4 1107.5,1334.0 1109.0,1336.7 1110.4,1339.3 1111.9,1341.9 1113.4,1344.5 1114.8,1347.1 1116.3,1349.7 1117.8,1352.3 1119.4,1354.9 1120.9,1357.5 1122.5,1360.0 1124.1,1362.5 1125.7,1365.1 1127.4,1367.6 1129.1,1370.0 1130.8,1372.5 1132.5,1375.0 1134.2,1377.4 1135.9,1379.9 1137.7,1382.3 1139.4,1384.8 1141.2,1387.2 1143.0,1389.6 1144.8,1392.0 1146.6,1394.4 1148.4,1396.8 1150.3,1399.1 1152.1,1401.5 1154.0,1403.8 1155.9,1406.2 1157.8,1408.5 1159.7,1410.8 1161.6,1413.1 1163.6,1415.4 1165.5,1417.6 1167.5,1419.9 1169.6,1422.0 1171.7,1424.2 1173.8,1426.3 1176.0,1428.4 1178.2,1430.4 1180.4,1432.4 1182.7,1434.4 1185.0,1436.2 1187.4,1438.1 1189.8,1439.8 1192.3,1441.5 1194.9,1443.1 1197.5,1444.6 1200.1,1446.1 1202.7,1447.5 1205.3,1448.9 1208.0,1450.4 1210.6,1451.8 1213.3,1453.2 1216.0,1454.5 1218.7,1455.8 1221.4,1457.1 1224.1,1458.3 1226.9,1459.5 1229.6,1460.7 1232.4,1461.9 1235.2,1463.0 1237.9,1464.2 1240.7,1465.3 1243.5,1466.4 1246.3,1467.4 1249.1,1468.5 1252.0,1469.5 1254.8,1470.4 1257.7,1471.3 1260.5,1472.2 1263.4,1473.0 1266.3,1473.8 1269.2,1474.5 1272.1,1475.3 1275.1,1475.9 1278.0,1476.6 1280.9,1477.2 1283.9,1477.8 1286.8,1478.4 1289.8,1479.0 1292.7,1479.5 1295.7,1480.1 1298.6,1480.6 1301.6,1481.1 1304.5,1481.6 1307.5,1482.0 1310.5,1482.5 1313.4,1483.0 1316.4,1483.4 1319.3,1483.9 1322.3,1484.3 1325.3,1484.8 1328.2,1485.2 1331.2,1485.6 1334.2,1486.0 1337.2,1486.4 1340.1,1486.8 1343.1,1487.1 1346.1,1487.5 1349.1,1487.8 1352.1,1488.1 1355.1,1488.3 1358.1,1488.6 1361.0,1488.8 1364.0,1489.1 1367.0,1489.3 1370.0,1489.5 1373.0,1489.7 1376.0,1489.9 1379.0,1490.1 1382.0,1490.3 1385.0,1490.5 1388.0,1490.7 1391.0,1490.9 1394.0,1491.0 1397.0,1491.2 1400.0,1491.4 1403.0,1491.6 1405.9,1491.7 1408.9,1491.9 1411.9,1492.1 1414.9,1492.3 1417.9,1492.4 1420.9,1492.6 1423.9,1492.8 1426.9,1492.9 1429.9,1493.1 1432.9,1493.3 1435.9,1493.4 1438.9,1493.6 1441.9,1493.7 1444.9,1493.9 1447.9,1494.0 1450.9,1494.1 1453.9,1494.3 1456.9,1494.4 1459.9,1494.5 1462.9,1494.7 1465.9,1494.8 1468.9,1494.9 1471.9,1495.0 1474.9,1495.1 1477.9,1495.3 1480.9,1495.4 1483.9,1495.5 1486.9,1495.6 1489.9,1495.7 1492.8,1495.8 1495.8,1495.9 1498.8,1496.1 1501.8,1496.2 1504.8,1496.3 1507.8,1496.4 1510.8,1496.5 1513.8,1496.6 1516.8,1496.7 1519.8,1496.8 1522.8,1496.9 1525.8,1497.0 1528.8,1497.0 1531.8,1497.1 1534.8,1497.2 1537.8,1497.3 1540.8,1497.4 1543.8,1497.5 1546.8,1497.5 1549.8,1497.6 1552.8,1497.7 1555.8,1497.7 1558.8,1497.8 1561.8,1497.9 1564.8,1497.9 1567.8,1498.0 1570.8,1498.1 1573.8,1498.1 1576.8,1498.2 1579.8,1498.2 1582.8,1498.3 1585.8,1498.4 1588.8,1498.4 1591.8,1498.5 1594.8,1498.5 1597.8,1498.5 1600.8,1498.6 1603.8,1498.6 1606.8,1498.7 1609.8,1498.7 1612.8,1498.7 1615.8,1498.8 1618.8,1498.8 1621.8,1498.8 1624.8,1498.8 1627.8,1498.9 1630.8,1498.9 1633.8,1498.9 1636.8,1498.9 1639.8,1498.9 1642.8,1499.0 1645.8,1499.0 1648.8,1499.0 1651.8,1499.0 1654.8,1499.0 1657.8,1499.0 1660.8,1499.0 1663.8,1499.1 1666.8,1499.1 1669.8,1499.1 1672.8,1499.1 1675.8,1499.1 1678.8,1499.1 1681.8,1499.1 1684.8,1499.1 1687.8,1499.1 1690.8,1499.1 1693.8,1499.1 1696.8,1499.2 1699.8,1499.2 1702.8,1499.2 1705.8,1499.2 1708.8,1499.2 1711.8,1499.2 1714.8,1499.2 1717.8,1499.2 1720.8,1499.2 1723.8,1499.2 1726.8,1499.2 1729.8,1499.2 1732.8,1499.2 1735.8,1499.2 1738.8,1499.2 1741.8,1499.2 1744.8,1499.2 1747.8,1499.2 1750.8,1499.2 1753.8,1499.2 1756.8,1499.2 1759.8,1499.2 1762.8,1499.2 1765.8,1499.2 1768.8,1499.2 1771.8,1499.2 1774.8,1499.2 1777.8,1499.2 1780.8,1499.2 1783.8,1499.2 1786.8,1499.2 1789.8,1499.2 1792.8,1499.2 1795.8,1499.2 1798.8,1499.2 1801.8,1499.2 1804.8,1499.1 1807.8,1499.1 1810.8,1499.1 1813.8,1499.1 1816.8,1499.1 1819.8,1499.1 1822.8,1499.1 1825.8,1499.1 1828.8,1499.1 1831.8,1499.1 1834.8,1499.1 1837.8,1499.0 1840.8,1499.0 1843.8,1499.0 1846.8,1499.0 1849.8,1499.0 1852.8,1499.0 1855.8,1499.0 1858.8,1499.0 1861.8,1498.9 1864.8,1498.9 1867.8,1498.9 1870.8,1498.9 1873.8,1498.9 1876.8,1498.9 1879.8,1498.8 1882.8,1498.8 1885.8,1498.8 1888.8,1498.8 1891.8,1498.8 1894.8,1498.7 1897.8,1498.7 1900.8,1498.7 1903.8,1498.7 1906.8,1498.7 1909.8,1498.6 1912.8,1498.6 1915.8,1498.6 1918.8,1498.6 1921.8,1498.5 1924.8,1498.5 1927.8,1498.5 1930.8,1498.5 1933.8,1498.4 1936.8,1498.4 1939.8,1498.4 1942.8,1498.4 1945.8,1498.4 1948.8,1498.3 1951.8,1498.3 1954.8,1498.3 1957.8,1498.3 1960.8,1498.2 1963.8,1498.2 1966.8,1498.2 1969.8,1498.2 1972.8,1498.1 1975.8,1498.1 1978.8,1498.1 1981.8,1498.0 1984.8,1498.0 1987.8,1498.0 1990.8,1498.0 1993.8,1497.9 1996.8,1497.9 1999.8,1497.9 2002.8,1497.9 2005.8,1497.8 2008.8,1497.8 2011.8,1497.8 2014.8,1497.8 2017.8,1497.7 2020.8,1497.7 2023.8,1497.7 2026.8,1497.7 2029.8,1497.6 2032.8,1497.6 2035.8,1497.6 2038.8,1497.5 2041.8,1497.5 2044.8,1497.5 2047.8,1497.5 2050.8,1497.4 2053.8,1497.4 2056.8,1497.4 2059.8,1497.4 2062.8,1497.3 2065.8,1497.3 2068.8,1497.3 2071.8,1497.2 2074.8,1497.2 2077.8,1497.2 2080.8,1497.2 2083.8,1497.1 2086.8,1497.1 2089.8,1497.1 2092.8,1497.1 2095.8,1497.0 2098.8,1497.0 2100.0,1497.0" stroke="#0000ff"/>
<path d="M161.0,252.2 163.9,251.6 166.9,251.1 169.8,250.5 172.8,250.0 175.7,249.4 178.7,248.8 181.6,248.1 184.5,247.4 187.4,246.6 190.3,245.8 193.1,244.9 196.0,244.0 198.9,243.0 201.7,242.1 204.6,241.2 207.5,240.4 210.3,239.6 213.2,238.8 216.1,238.1 219.1,237.3 222.0,236.6 224.9,235.9 227.8,235.2 230.7,234.5 233.6,233.8 236.6,233.1 239.5,232.4 242.4,231.7 245.3,231.0 248.2,230.3 251.2,229.6 254.1,229.0 257.0,228.3 259.9,227.6 262.9,227.0 265.8,226.4 268.7,225.7 271.7,225.1 274.6,224.5 277.5,223.9 280.5,223.3 283.4,222.7 286.4,222.2 289.3,221.7 292.3,221.2 295.3,220.8 298.2,220.4 301.2,220.0 304.2,219.7 307.2,219.3 310.1,218.9 313.1,218.6 316.1,218.1 319.0,217.6 322.0,217.1 324.9,216.4 327.8,215.8 330.8,215.1 333.7,214.4 336.6,213.7 339.5,213.1 342.5,212.6 345.5,212.3 348.5,212.2 351.5,212.5 354.4,213.2 357.3,214.0 360.2,214.7 363.2,215.0 366.2,214.9 369.2,214.7 372.1,214.3 375.1,213.9 378.1,213.4 381.0,212.9 384.0,212.4 386.9,211.9 389.9,211.5 392.9,211.2 395.9,210.9 398.9,210.6 401.9,210.4 404.9,210.2 407.8,210.0 410.8,209.7 413.8,209.5 416.8,209.3 419.8,209.1 422.8,208.9 425.8,208.7 428.8,208.5 431.8,208.3 434.8,208.0 437.8,207.8 440.8,207.5 443.7,207.3 446.7,207.0 449.7,206.8 452.7,206.5 455.7,206.3 458.7,206.0 461.7,205.8 464.7,205.6 467.7,205.3 470.7,205.1 473.7,204.9 476.6,204.7 479.6,204.5 482.6,204.2 485.6,204.0 488.6,203.7 491.6,203.4 494.6,203.1 497.6,202.9 500.6,202.6 503.5,202.4 506.5,202.2 509.5,202.0 512.5,201.8 515.5,201.7 518.5,201.7 521.5,201.8 524.5,202.1 527.5,202.7 530.3,203.7 532.9,205.1 535.4,206.8 537.8,208.6 540.5,209.9 543.4,210.7 546.3,211.1 549.3,211.3 552.3,211.2 555.3,211.2 558.3,211.2 561.3,211.2 564.3,211.2 567.3,211.2 570.3,211.2 573.3,211.2 576.3,211.2 579.3,211.2 582.3,211.2 585.3,211.2 588.3,211.3 591.3,211.4 594.3,211.5 597.3,211.8 600.3,212.1 603.3,212.5 606.2,213.0 609.2,213.4 612.2,213.9 615.1,214.3 618.1,214.6 621.1,215.0 624.1,215.3 627.1,215.7 630.0,216.0 633.0,216.4 636.0,216.8 638.9,217.3 641.9,217.8 644.8,218.4 647.8,219.1 650.6,219.9 653.5,220.8 656.3,221.8 659.2,222.8 662.0,223.9 664.8,225.0 667.5,226.1 670.3,227.3 673.0,228.6 675.7,229.9 678.4,231.3 681.0,232.7 683.7,234.1 686.3,235.5 688.9,237.0 691.5,238.6 694.0,240.2 696.4,241.9 698.8,243.8 701.1,245.7 703.3,247.8 705.4,249.9 707.4,252.1 709.4,254.3 711.4,256.5 713.4,258.8 715.3,261.1 717.2,263.4 719.1,265.7 721.0,268.1 722.8,270.5 724.5,272.9 726.2,275.4 727.9,277.8 729.5,280.4 731.1,282.9 732.7,285.5 734.2,288.0 735.7,290.6 737.2,293.2 738.7,295.8 740.2,298.4 741.6,301.1 743.1,303.7 744.5,306.3 745.9,309.0 747.2,311.7 748.5,314.4 749.8,317.1 751.1,319.8 752.3,322.5 753.5,325.3 754.7,328.0 755.9,330.8 757.0,333.6 758.2,336.4 759.3,339.1 760.3,341.9 761.4,344.7 762.5,347.5 763.6,350.3 764.6,353.1 765.7,355.9 766.8,358.7 767.9,361.5 768.9,364.3 770.0,367.1 771.1,369.9 772.1,372.8 773.2,375.6 774.2,378.4 775.2,381.2 776.2,384.0 777.2,386.9 778.2,389.7 779.2,392.5 780.1,395.4 781.1,398.2 782.1,401.1 783.0,403.9 784.0,406.7 785.0,409.6 785.9,412.4 786.9,415.3 787.8,418.1 788.8,421.0 789.7,423.8 790.6,426.7 791.5,429.5 792.4,432.4 793.2,435.3 794.1,438.2 794.9,441.0 795.7,443.9 796.5,446.8 797.4,449.7 798.2,452.6 799.0,455.5 799.9,458.3 800.8,461.2 801.7,464.0 802.7,466.9 803.6,469.7 804.6,472.6 805.6,475.4 806.6,478.2 807.6,481.1 808.6,483.9 809.5,486.7 810.5,489.6 811.4,492.4 812.4,495.3 813.3,498.1 814.2,501.0 815.1,503.9 816.0,506.7 816.8,509.6 817.7,512.5 818.6,515.3 819.4,518.2 820.3,521.1 821.2,524.0 822.0,526.8 822.9,529.7 823.7,532.6 824.5,535.5 825.4,538.3 826.2,541.2 827.1,544.1 828.0,547.0 828.8,549.8 829.7,552.7 830.6,555.6 831.5,558.4 832.4,561.3 833.2,564.2 834.1,567.0 835.0,569.9 835.9,572.8 836.8,575.6 837.7,578.5 838.6,581.4 839.5,584.2 840.4,587.1 841.3,589.9 842.2,592.8 843.1,595.7 844.0,598.5 844.9,601.4 845.8,604.3 846.7,607.1 847.6,610.0 848.5,612.8 849.5,615.7 850.4,618.5 851.4,621.4 852.3,624.2 853.3,627.1 854.2,629.9 855.2,632.8 856.1,635.6 857.1,638.4 858.0,641.3 859.0,644.1 859.9,647.0 860.9,649.8 861.8,652.7 862.8,655.5 863.7,658.4 864.7,661.2 865.6,664.1 866.5,666.9 867.4,669.8 868.3,672.6 869.2,675.5 870.1,678.4 871.0,681.2 871.9,684.1 872.8,687.0 873.7,689.8 874.5,692.7 875.4,695.6 876.2,698.5 877.1,701.3 877.9,704.2 878.7,707.1 879.5,710.0 880.3,712.9 881.1,715.8 881.9,718.7 882.6,721.6 883.4,724.5 884.2,727.4 885.0,730.3 885.8,733.2 886.6,736.1 887.4,738.9 888.2,741.8 889.0,744.7 889.8,747.6 890.6,750.5 891.4,753.4 892.2,756.3 893.0,759.2 893.8,762.1 894.6,764.9 895.4,767.8 896.2,770.7 897.0,773.6 897.8,776.5 898.6,779.4 899.4,782.3 900.2,785.2 900.9,788.1 901.7,791.0 902.5,793.9 903.2,796.8 904.0,799.7 904.8,802.6 905.5,805.5 906.3,808.4 907.1,811.3 907.8,814.2 908.6,817.1 909.4,820.0 910.2,822.9 911.0,825.8 911.8,828.7 912.6,831.6 913.4,834.5 914.2,837.3 915.0,840.2 915.8,843.1 916.6,846.0 917.4,848.9 918.2,851.8 919.0,854.7 919.8,857.6 920.6,860.5 921.4,863.4 922.2,866.3 923.0,869.2 923.8,872.0 924.6,874.9 925.4,877.8 926.2,880.7 927.1,883.6 927.9,886.5 928.7,889.4 929.5,892.3 930.3,895.1 931.2,898.0 932.0,900.9 932.8,903.8 933.6,906.7 934.5,909.6 935.3,912.4 936.1,915.3 936.9,918.2 937.7,921.1 938.5,924.0 939.3,926.9 940.0,929.8 940.8,932.7 941.6,935.6 942.3,938.5 943.1,941.4 943.9,944.3 944.6,947.2 945.4,950.1 946.2,953.0 947.0,955.9 947.8,958.8 948.5,961.7 949.3,964.6 950.1,967.5 950.9,970.4 951.6,973.3 952.4,976.2 953.1,979.1 953.8,982.0 954.5,984.9 955.2,987.8 955.9,990.8 956.6,993.7 957.3,996.6 958.0,999.5 958.6,1002.5 959.3,1005.4 959.9,1008.3 960.6,1011.2 961.3,1014.2 961.9,1017.1 962.6,1020.0 963.3,1022.9 963.9,1025.9 964.6,1028.8 965.3,1031.7 966.0,1034.6 966.6,1037.6 967.3,1040.5 968.0,1043.4 968.7,1046.3 969.4,1049.2 970.1,1052.2 970.8,1055.1 971.5,1058.0 972.2,1060.9 972.9,1063.8 973.7,1066.7 974.4,1069.6 975.2,1072.5 975.9,1075.4 976.7,1078.3 977.4,1081.2 978.2,1084.1 979.0,1087.0 979.8,1089.9 980.6,1092.8 981.3,1095.7 982.1,1098.6 982.9,1101.5 983.7,1104.4 984.5,1107.3 985.3,1110.2 986.1,1113.1 986.9,1116.0 987.7,1118.9 988.5,1121.7 989.4,1124.6 990.2,1127.5 991.0,1130.4 991.8,1133.3 992.7,1136.2 993.5,1139.0 994.4,1141.9 995.2,1144.8 996.0,1147.7 996.9,1150.6 997.8,1153.4 998.6,1156.3 999.5,1159.2 1000.4,1162.0 1001.2,1164.9 1002.1,1167.8 1003.0,1170.6 1003.9,1173.5 1004.8,1176.4 1005.7,1179.2 1006.6,1182.1 1007.5,1185.0 1008.4,1187.8 1009.3,1190.7 1010.3,1193.5 1011.2,1196.4 1012.1,1199.2 1013.1,1202.1 1014.0,1204.9 1014.9,1207.8 1015.8,1210.6 1016.8,1213.5 1017.6,1216.4 1018.5,1219.2 1019.4,1222.1 1020.3,1225.0 1021.1,1227.8 1022.0,1230.7 1022.9,1233.6 1023.9,1236.4 1024.8,1239.3 1025.8,1242.1 1026.8,1244.9 1027.8,1247.7 1028.9,1250.5 1029.9,1253.4 1031.0,1256.2 1032.0,1259.0 1033.1,1261.8 1034.2,1264.6 1035.3,1267.4 1036.4,1270.2 1037.4,1273.0 1038.5,1275.8 1039.6,1278.6 1040.7,1281.4 1041.8,1284.1 1042.9,1286.9 1043.9,1289.7 1045.0,1292.5 1046.1,1295.3 1047.2,1298.1 1048.4,1300.9 1049.5,1303.7 1050.6,1306.5 1051.8,1309.2 1052.9,1312.0 1054.1,1314.8 1055.3,1317.5 1056.5,1320.2 1057.7,1323.0 1059.0,1325.7 1060.3,1328.4 1061.5,1331.1 1062.8,1333.8 1064.2,1336.5 1065.5,1339.2 1066.9,1341.9 1068.2,1344.6 1069.6,1347.2 1071.0,1349.9 1072.5,1352.5 1073.9,1355.1 1075.4,1357.8 1076.8,1360.4 1078.3,1363.0 1079.8,1365.6 1081.4,1368.1 1082.9,1370.7 1084.5,1373.3 1086.0,1375.8 1087.6,1378.4 1089.2,1380.9 1090.9,1383.4 1092.5,1385.9 1094.2,1388.4 1095.9,1390.9 1097.6,1393.3 1099.4,1395.8 1101.1,1398.2 1102.9,1400.6 1104.8,1403.0 1106.6,1405.3 1108.5,1407.7 1110.4,1410.0 1112.3,1412.3 1114.3,1414.5 1116.3,1416.8 1118.3,1419.0 1120.4,1421.2 1122.4,1423.4 1124.5,1425.5 1126.6,1427.7 1128.6,1429.9 1130.7,1432.0 1132.8,1434.2 1134.9,1436.3 1137.1,1438.4 1139.2,1440.5 1141.4,1442.5 1143.6,1444.6 1145.8,1446.6 1148.1,1448.6 1150.4,1450.5 1152.7,1452.4 1155.0,1454.3 1157.4,1456.1 1159.9,1457.9 1162.3,1459.6 1164.8,1461.3 1167.3,1462.9 1169.8,1464.6 1172.4,1466.1 1174.9,1467.7 1177.5,1469.2 1180.2,1470.6 1182.9,1471.9 1185.6,1473.1 1188.4,1474.2 1191.2,1475.3 1194.1,1476.2 1196.9,1477.2 1199.7,1478.3 1202.5,1479.3 1205.3,1480.3 1208.2,1481.3 1211.0,1482.3 1213.8,1483.3 1216.7,1484.2 1219.6,1485.0 1222.5,1485.9 1225.4,1486.6 1228.3,1487.3 1231.2,1488.0 1234.1,1488.7 1237.1,1489.3 1240.0,1489.9 1242.9,1490.5 1245.9,1491.0 1248.8,1491.6 1251.8,1492.1 1254.8,1492.6 1257.7,1493.1 1260.7,1493.6 1263.6,1494.1 1266.6,1494.6 1269.6,1495.1 1272.5,1495.5 1275.5,1495.9 1278.5,1496.3 1281.4,1496.7 1284.4,1497.1 1287.4,1497.4 1290.4,1497.7 1293.4,1498.0 1296.4,1498.3 1299.3,1498.5 1302.3,1498.8 1305.3,1499.0 1308.3,1499.2 1311.3,1499.3 1314.3,1499.5 1317.3,1499.7 1320.3,1499.8 1323.3,1500.0 1326.3,1500.1 1329.3,1500.2 1332.3,1500.4 1335.3,1500.5 1338.3,1500.6 1341.3,1500.7 1344.3,1500.9 1347.3,1501.0 1350.3,1501.1 1353.3,1501.2 1356.3,1501.4 1359.3,1501.5 1362.3,1501.6 1365.3,1501.8 1368.3,1501.9 1371.3,1502.0 1374.3,1502.1 1377.3,1502.3 1380.2,1502.4 1383.2,1502.5 1386.2,1502.6 1389.2,1502.7 1392.2,1502.9 1395.2,1503.0 1398.2,1503.1 1401.2,1503.2 1404.2,1503.3 1407.2,1503.4 1410.2,1503.5 1413.2,1503.6 1416.2,1503.7 1419.2,1503.8 1422.2,1503.9 1425.2,1504.0 1428.2,1504.1 1431.2,1504.2 1434.2,1504.2 1437.2,1504.3 1440.2,1504.4 1443.2,1504.5 1446.2,1504.6 1449.2,1504.7 1452.2,1504.7 1455.2,1504.8 1458.2,1504.9 1461.2,1505.0 1464.2,1505.0 1467.2,1505.1 1470.2,1505.2 1473.2,1505.2 1476.2,1505.3 1479.2,1505.4 1482.2,1505.4 1485.2,1505.5 1488.2,1505.5 1491.2,1505.6 1494.2,1505.6 1497.2,1505.6 1500.2,1505.7 1503.2,1505.7 1506.2,1505.7 1509.2,1505.8 1512.2,1505.8 1515.2,1505.8 1518.2,1505.9 1521.2,1505.9 1524.2,1505.9 1527.2,1505.9 1530.2,1506.0 1533.2,1506.0 1536.2,1506.0 1539.2,1506.0 1542.2,1506.0 1545.2,1506.0 1548.2,1506.1 1551.2,1506.1 1554.2,1506.1 1557.2,1506.1 1560.2,1506.1 1563.2,1506.1 1566.2,1506.1 1569.2,1506.1 1572.2,1506.1 1575.2,1506.1 1578.2,1506.2 1581.2,1506.2 1584.2,1506.2 1587.2,1506.2 1590.2,1506.2 1593.2,1506.2 1596.2,1506.2 1599.2,1506.2 1602.2,1506.2 1605.2,1506.2 1608.2,1506.2 1611.2,1506.2 1614.2,1506.2 1617.2,1506.2 1620.2,1506.2 1623.2,1506.2 1626.2,1506.2 1629.2,1506.2 1632.2,1506.2 1635.2,1506.2 1638.2,1506.2 1641.2,1506.2 1644.2,1506.2 1647.2,1506.2 1650.2,1506.2 1653.2,1506.2 1656.2,1506.2 1659.2,1506.2 1662.2,1506.2 1665.2,1506.2 1668.2,1506.2 1671.2,1506.2 1674.2,1506.2 1677.2,1506.2 1680.2,1506.2 1683.2,1506.2 1686.2,1506.2 1689.2,1506.2 1692.2,1506.2 1695.2,1506.2 1698.2,1506.2 1701.2,1506.2 1704.2,1506.2 1707.2,1506.2 1710.2,1506.2 1713.2,1506.2 1716.2,1506.2 1719.2,1506.2 1722.2,1506.2 1725.2,1506.2 1728.2,1506.2 1731.2,1506.1 1734.2,1506.1 1737.2,1506.1 1740.2,1506.1 1743.2,1506.1 1746.2,1506.1 1749.2,1506.1 1752.2,1506.1 1755.2,1506.1 1758.2,1506.1 1761.2,1506.1 1764.2,1506.1 1767.2,1506.0 1770.2,1506.0 1773.2,1506.0 1776.2,1506.0 1779.2,1506.0 1782.2,1506.0 1785.2,1506.0 1788.2,1506.0 1791.2,1506.0 1794.2,1505.9 1797.2,1505.9 1800.2,1505.9 1803.2,1505.9 1806.2,1505.9 1809.2,1505.9 1812.2,1505.9 1815.2,1505.9 1818.2,1505.9 1821.2,1505.8 1824.2,1505.8 1827.2,1505.8 1830.2,1505.8 1833.2,1505.8 1836.2,1505.8 1839.2,1505.8 1842.2,1505.8 1845.2,1505.7 1848.2,1505.7 1851.2,1505.7 1854.2,1505.7 1857.2,1505.7 1860.2,1505.7 1863.2,1505.7 1866.2,1505.6 1869.2,1505.6 1872.2,1505.6 1875.2,1505.6 1878.2,1505.6 1881.2,1505.6 1884.2,1505.6 1887.2,1505.6 1890.2,1505.5 1893.2,1505.5 1896.2,1505.5 1899.2,1505.5 1902.2,1505.5 1905.2,1505.5 1908.2,1505.5 1911.2,1505.5 1914.2,1505.4 1917.2,1505.4 1920.2,1505.4 1923.2,1505.4 1926.2,1505.4 1929.2,1505.4 1932.2,1505.4 1935.2,1505.3 1938.2,1505.3 1941.2,1505.3 1944.2,1505.3 1947.2,1505.3 1950.2,1505.3 1953.2,1505.3 1956.2,1505.2 1959.2,1505.2 1962.2,1505.2 1965.2,1505.2 1968.2,1505.2 1971.2,1505.2 1974.2,1505.2 1977.2,1505.1 1980.2,1505.1 1983.2,1505.1 1986.2,1505.1 1989.2,1505.1 1992.2,1505.1 1995.2,1505.0 1998.2,1505.0 2001.2,1505.0 2004.2,1505.0 2007.2,1505.0 2010.2,1505.0 2013.2,1505.0 2016.2,1504.9 2019.2,1504.9 2022.2,1504.9 2025.2,1504.9 2028.2,1504.9 2031.2,1504.9 2034.2,1504.8 2037.2,1504.8 2040.2,1504.8 2043.2,1504.8 2046.2,1504.8 2049.2,1504.8 2052.2,1504.7 2055.2,1504.7 2058.2,1504.7 2061.2,1504.7 2064.2,1504.7 2067.2,1504.7 2070.2,1504.7 2073.2,1504.6 2076.2,1504.6 2079.2,1504.6 2082.2,1504.6 2085.2,1504.6 2088.2,1504.6 2091.2,1504.5 2094.2,1504.5 2097.2,1504.5 2100.0,1504.5" stroke="#ff00ff"/>
<path d="M161.0,495.9 163.9,495.0 166.7,494.1 169.6,493.3 172.5,492.5 175.4,491.8 178.4,491.2 181.3,490.8 184.3,490.5 187.3,490.2 190.3,490.0 193.3,489.8 196.3,489.6 199.3,489.3 202.3,489.0 205.2,488.6 208.2,488.1 211.1,487.5 214.0,486.8 217.0,486.1 219.9,485.3 222.8,484.5 225.7,483.8 228.6,483.1 231.5,482.5 234.5,481.9 237.4,481.4 240.4,480.9 243.4,480.5 246.3,480.1 249.3,479.7 252.3,479.3 255.2,478.9 258.2,478.6 261.2,478.2 264.2,477.9 267.2,477.6 270.2,477.3 273.2,477.1 276.1,476.9 279.1,476.8 282.1,476.7 285.1,476.6 288.1,476.6 291.1,476.5 294.1,476.5 297.1,476.4 300.1,476.3 303.1,476.1 306.1,475.8 309.1,475.4 312.0,474.8 314.9,474.1 317.8,473.3 320.7,472.4 323.5,471.4 326.3,470.4 329.2,469.3 332.0,468.4 334.9,467.5 337.8,466.8 340.8,466.4 343.8,466.2 346.7,466.5 349.7,467.0 352.6,467.8 355.3,469.2 358.0,470.2 361.0,470.7 364.0,470.7 367.0,470.6 370.0,470.4 373.0,470.1 376.0,469.8 378.9,469.4 381.9,469.1 384.9,468.7 387.9,468.3 390.8,467.8 393.8,467.3 396.7,466.8 399.7,466.3 402.7,465.9 405.7,465.6 408.6,465.3 411.6,465.1 414.6,464.9 417.6,464.8 420.6,464.8 423.6,464.7 426.6,464.7 429.6,464.7 432.6,464.7 435.6,464.6 438.6,464.6 441.6,464.6 444.6,464.6 447.6,464.5 450.6,464.5 453.6,464.4 456.6,464.3 459.6,464.1 462.6,463.8 465.6,463.5 468.6,463.1 471.5,462.6 474.5,462.1 477.4,461.6 480.4,461.1 483.4,460.8 486.4,460.4 489.3,460.1 492.3,459.8 495.3,459.4 498.3,459.1 501.3,458.8 504.3,458.4 507.2,458.2 510.2,457.9 513.2,457.7 516.2,457.6 519.2,457.6 522.2,457.7 525.1,458.2 527.9,459.4 530.2,461.2 532.3,463.3 534.8,464.9 537.6,465.9 540.5,466.4 543.5,466.7 546.5,466.8 549.5,466.9 552.5,466.9 555.5,466.8 558.5,466.8 561.5,466.8 564.5,466.8 567.5,466.8 570.5,466.9 573.5,467.2 576.5,467.5 579.5,467.8 582.4,468.2 585.4,468.7 588.4,469.2 591.3,469.8 594.2,470.4 597.2,471.0 600.1,471.6 603.0,472.3 606.0,473.0 608.9,473.7 611.8,474.5 614.7,475.3 617.5,476.1 620.4,477.0 623.2,478.0 626.0,479.0 628.8,480.2 631.6,481.3 634.4,482.4 637.2,483.5 640.0,484.5 642.8,485.6 645.6,486.7 648.4,487.9 651.1,489.1 653.8,490.3 656.5,491.7 658.9,493.5 661.2,495.4 663.5,497.4 665.6,499.4 667.7,501.5 669.8,503.7 671.9,505.9 673.9,508.0 676.0,510.3 678.0,512.5 679.9,514.8 681.8,517.1 683.7,519.4 685.5,521.8 687.3,524.2 689.0,526.7 690.7,529.1 692.4,531.6 694.0,534.1 695.6,536.7 697.2,539.2 698.8,541.7 700.4,544.3 701.9,546.9 703.4,549.5 704.9,552.1 706.4,554.7 707.8,557.3 709.2,560.0 710.6,562.6 712.0,565.3 713.3,568.0 714.7,570.7 716.0,573.4 717.3,576.1 718.6,578.8 719.8,581.5 721.1,584.2 722.3,586.9 723.5,589.7 724.7,592.5 725.8,595.2 726.9,598.0 728.0,600.8 729.1,603.6 730.1,606.4 731.1,609.3 732.1,612.1 733.1,614.9 734.1,617.7 735.1,620.6 736.1,623.4 737.1,626.2 738.1,629.1 739.1,631.9 740.1,634.7 741.1,637.5 742.1,640.4 743.1,643.2 744.2,646.0 745.2,648.8 746.3,651.6 747.3,654.4 748.4,657.2 749.5,660.0 750.6,662.8 751.7,665.6 752.8,668.4 753.9,671.2 755.0,674.0 756.2,676.7 757.3,679.5 758.5,682.3 759.6,685.1 760.7,687.8 761.9,690.6 763.0,693.4 764.0,696.2 765.1,699.0 766.1,701.8 767.2,704.6 768.2,707.5 769.3,710.3 770.4,713.1 771.5,715.8 772.6,718.6 773.7,721.4 774.8,724.2 775.9,727.0 777.0,729.8 778.1,732.6 779.1,735.4 780.2,738.2 781.2,741.0 782.3,743.8 783.3,746.6 784.3,749.5 785.4,752.3 786.4,755.1 787.5,757.9 788.6,760.7 789.6,763.5 790.7,766.3 791.8,769.1 792.9,771.9 794.0,774.7 795.1,777.5 796.2,780.3 797.3,783.0 798.4,785.8 799.5,788.6 800.7,791.4 801.8,794.2 802.9,796.9 804.0,799.7 805.1,802.5 806.2,805.3 807.3,808.1 808.3,810.9 809.4,813.7 810.4,816.6 811.5,819.4 812.5,822.2 813.5,825.0 814.5,827.8 815.6,830.6 816.6,833.5 817.6,836.3 818.6,839.1 819.6,841.9 820.6,844.8 821.6,847.6 822.6,850.4 823.6,853.3 824.6,856.1 825.6,858.9 826.5,861.8 827.5,864.6 828.4,867.5 829.4,870.3 830.3,873.1 831.3,876.0 832.2,878.8 833.2,881.7 834.1,884.5 835.0,887.4 835.9,890.3 836.9,893.1 837.8,896.0 838.7,898.8 839.6,901.7 840.5,904.5 841.4,907.4 842.3,910.3 843.2,913.1 844.1,916.0 845.0,918.8 845.9,921.7 846.8,924.6 847.8,927.4 848.7,930.3 849.7,933.1 850.6,935.9 851.6,938.8 852.6,941.6 853.6,944.4 854.7,947.2 855.7,950.1 856.7,952.9 857.7,955.7 858.6,958.6 859.6,961.4 860.5,964.3 861.5,967.1 862.4,970.0 863.3,972.8 864.2,975.7 865.1,978.5 866.0,981.4 866.9,984.3 867.8,987.1 868.7,990.0 869.6,992.9 870.4,995.7 871.2,998.6 872.1,1001.5 872.9,1004.4 873.7,1007.3 874.5,1010.2 875.3,1013.1 876.1,1016.0 876.8,1018.9 877.6,1021.8 878.4,1024.7 879.1,1027.6 879.9,1030.5 880.7,1033.4 881.4,1036.3 882.1,1039.2 882.9,1042.1 883.6,1045.0 884.4,1047.9 885.1,1050.8 885.9,1053.7 886.6,1056.6 887.3,1059.5 888.1,1062.4 888.9,1065.3 889.6,1068.2 890.4,1071.1 891.1,1074.0 891.9,1076.9 892.7,1079.8 893.5,1082.7 894.2,1085.6 895.0,1088.5 895.8,1091.4 896.6,1094.3 897.4,1097.2 898.2,1100.1 898.9,1103.0 899.7,1105.9 900.5,1108.8 901.3,1111.7 902.1,1114.6 902.9,1117.5 903.7,1120.4 904.5,1123.3 905.3,1126.2 906.1,1129.1 906.9,1131.9 907.7,1134.8 908.5,1137.7 909.3,1140.6 910.1,1143.5 910.9,1146.4 911.8,1149.3 912.6,1152.1 913.4,1155.0 914.3,1157.9 915.1,1160.8 915.9,1163.7 916.8,1166.6 917.6,1169.4 918.5,1172.3 919.3,1175.2 920.1,1178.1 921.0,1181.0 921.8,1183.8 922.7,1186.7 923.5,1189.6 924.4,1192.5 925.2,1195.3 926.1,1198.2 927.0,1201.1 927.8,1203.9 928.7,1206.8 929.6,1209.7 930.5,1212.5 931.4,1215.4 932.3,1218.3 933.2,1221.1 934.1,1224.0 935.0,1226.8 935.9,1229.7 936.8,1232.6 937.7,1235.4 938.6,1238.3 939.5,1241.2 940.4,1244.0 941.3,1246.9 942.2,1249.7 943.1,1252.6 944.0,1255.5 944.9,1258.3 945.8,1261.2 946.7,1264.0 947.6,1266.9 948.5,1269.8 949.4,1272.6 950.3,1275.5 951.2,1278.4 952.2,1281.2 953.1,1284.1 954.0,1286.9 954.9,1289.8 955.9,1292.6 956.8,1295.5 957.8,1298.3 958.7,1301.2 959.7,1304.0 960.7,1306.8 961.7,1309.7 962.7,1312.5 963.7,1315.3 964.7,1318.1 965.8,1320.9 966.8,1323.7 967.9,1326.5 969.0,1329.3 970.2,1332.1 971.3,1334.9 972.5,1337.6 973.7,1340.4 974.9,1343.1 976.1,1345.9 977.4,1348.6 978.6,1351.3 979.9,1354.0 981.2,1356.7 982.5,1359.4 983.8,1362.1 985.1,1364.8 986.4,1367.5 987.8,1370.2 989.1,1372.9 990.4,1375.6 991.8,1378.2 993.2,1380.9 994.6,1383.5 996.1,1386.2 997.5,1388.8 999.0,1391.4 1000.5,1394.0 1002.0,1396.6 1003.6,1399.2 1005.2,1401.7 1006.8,1404.2 1008.4,1406.7 1010.1,1409.2 1011.8,1411.7 1013.5,1414.1 1015.3,1416.6 1017.1,1419.0 1018.9,1421.3 1020.8,1423.7 1022.7,1425.9 1024.7,1428.2 1026.7,1430.4 1028.8,1432.6 1030.9,1434.7 1033.0,1436.8 1035.2,1438.9 1037.4,1441.0 1039.5,1443.1 1041.7,1445.1 1043.9,1447.2 1046.1,1449.3 1048.2,1451.3 1050.5,1453.3 1052.7,1455.3 1055.0,1457.3 1057.3,1459.2 1059.6,1461.1 1062.1,1462.8 1064.6,1464.5 1067.1,1466.0 1069.7,1467.5 1072.3,1469.0 1075.0,1470.4 1077.6,1471.9 1080.2,1473.3 1082.8,1474.8 1085.5,1476.3 1088.1,1477.6 1090.8,1479.0 1093.6,1480.2 1096.4,1481.3 1099.2,1482.3 1102.0,1483.3 1104.8,1484.3 1107.7,1485.2 1110.6,1486.1 1113.4,1486.9 1116.3,1487.7 1119.2,1488.5 1122.1,1489.2 1125.1,1489.9 1128.0,1490.5 1131.0,1491.1 1133.9,1491.6 1136.9,1492.1 1139.8,1492.6 1142.8,1493.0 1145.7,1493.5 1148.7,1494.0 1151.7,1494.5 1154.6,1495.0 1157.6,1495.5 1160.5,1496.1 1163.4,1496.8 1166.3,1497.6 1169.2,1498.5 1172.1,1499.4 1174.9,1500.3 1177.8,1501.1 1180.7,1501.8 1183.7,1502.4 1186.6,1502.9 1189.6,1503.3 1192.6,1503.7 1195.5,1504.1 1198.5,1504.4 1201.5,1504.7 1204.5,1505.0 1207.5,1505.2 1210.5,1505.5 1213.5,1505.7 1216.5,1505.9 1219.5,1506.1 1222.4,1506.3 1225.4,1506.5 1228.4,1506.6 1231.4,1506.8 1234.4,1506.9 1237.4,1507.1 1240.4,1507.2 1243.4,1507.4 1246.4,1507.5 1249.4,1507.7 1252.4,1507.8 1255.4,1507.9 1258.4,1508.0 1261.4,1508.1 1264.4,1508.1 1267.4,1508.2 1270.4,1508.2 1273.4,1508.3 1276.4,1508.3 1279.4,1508.4 1282.4,1508.4 1285.4,1508.4 1288.4,1508.4 1291.4,1508.5 1294.4,1508.5 1297.4,1508.5 1300.4,1508.5 1303.4,1508.5 1306.4,1508.5 1309.4,1508.5 1312.4,1508.6 1315.4,1508.6 1318.4,1508.6 1321.4,1508.6 1324.4,1508.6 1327.4,1508.6 1330.4,1508.6 1333.4,1508.6 1336.4,1508.6 1339.4,1508.6 1342.4,1508.6 1345.4,1508.6 1348.4,1508.6 1351.4,1508.6 1354.4,1508.6 1357.4,1508.6 1360.4,1508.6 1363.4,1508.6 1366.4,1508.6 1369.4,1508.6 1372.4,1508.6 1375.4,1508.6 1378.4,1508.6 1381.4,1508.6 1384.4,1508.6 1387.4,1508.6 1390.4,1508.5 1393.4,1508.5 1396.4,1508.5 1399.4,1508.5 1402.4,1508.5 1405.4,1508.5 1408.4,1508.5 1411.4,1508.5 1414.4,1508.5 1417.4,1508.5 1420.4,1508.5 1423.4,1508.5 1426.4,1508.5 1429.4,1508.5 1432.4,1508.5 1435.4,1508.5 1438.4,1508.4 1441.4,1508.4 1444.4,1508.4 1447.4,1508.4 1450.4,1508.4 1453.4,1508.4 1456.4,1508.4 1459.4,1508.4 1462.4,1508.4 1465.4,1508.4 1468.4,1508.4 1471.4,1508.4 1474.4,1508.4 1477.4,1508.4 1480.4,1508.3 1483.4,1508.3 1486.4,1508.3 1489.4,1508.3 1492.4,1508.3 1495.4,1508.3 1498.4,1508.3 1501.4,1508.3 1504.4,1508.3 1507.4,1508.3 1510.4,1508.3 1513.4,1508.3 1516.4,1508.3 1519.4,1508.2 1522.4,1508.2 1525.4,1508.2 1528.4,1508.2 1531.4,1508.2 1534.4,1508.2 1537.4,1508.2 1540.4,1508.2 1543.4,1508.2 1546.4,1508.1 1549.4,1508.1 1552.4,1508.1 1555.4,1508.1 1558.4,1508.1 1561.4,1508.1 1564.4,1508.1 1567.4,1508.1 1570.4,1508.0 1573.4,1508.0 1576.4,1508.0 1579.4,1508.0 1582.4,1508.0 1585.4,1508.0 1588.4,1508.0 1591.4,1507.9 1594.4,1507.9 1597.4,1507.9 1600.4,1507.9 1603.4,1507.9 1606.4,1507.9 1609.4,1507.9 1612.4,1507.9 1615.4,1507.8 1618.4,1507.8 1621.4,1507.8 1624.4,1507.8 1627.4,1507.8 1630.4,1507.8 1633.4,1507.8 1636.4,1507.8 1639.4,1507.7 1642.4,1507.7 1645.4,1507.7 1648.4,1507.7 1651.4,1507.7 1654.4,1507.7 1657.4,1507.7 1660.4,1507.7 1663.4,1507.7 1666.4,1507.6 1669.4,1507.6 1672.4,1507.6 1675.4,1507.6 1678.4,1507.6 1681.4,1507.6 1684.4,1507.6 1687.4,1507.6 1690.4,1507.6 1693.4,1507.6 1696.4,1507.6 1699.4,1507.6 1702.4,1507.5 1705.4,1507.5 1708.4,1507.5 1711.4,1507.5 1714.4,1507.5 1717.4,1507.5 1720.4,1507.5 1723.4,1507.5 1726.4,1507.5 1729.4,1507.5 1732.4,1507.5 1735.4,1507.5 1738.4,1507.5 1741.4,1507.5 1744.4,1507.5 1747.4,1507.5 1750.4,1507.5 1753.4,1507.5 1756.4,1507.5 1759.4,1507.5 1762.4,1507.5 1765.4,1507.5 1768.4,1507.5 1771.4,1507.5 1774.4,1507.5 1777.4,1507.5 1780.4,1507.5 1783.4,1507.5 1786.4,1507.5 1789.4,1507.5 1792.4,1507.5 1795.4,1507.5 1798.4,1507.5 1801.4,1507.4 1804.4,1507.4 1807.4,1507.4 1810.4,1507.4 1813.4,1507.4 1816.4,1507.4 1819.4,1507.4 1822.4,1507.4 1825.4,1507.4 1828.4,1507.4 1831.4,1507.4 1834.4,1507.4 1837.4,1507.4 1840.4,1507.4 1843.4,1507.4 1846.4,1507.4 1849.4,1507.4 1852.4,1507.4 1855.4,1507.4 1858.4,1507.4 1861.4,1507.4 1864.4,1507.4 1867.4,1507.4 1870.4,1507.4 1873.4,1507.4 1876.4,1507.4 1879.4,1507.4 1882.4,1507.4 1885.4,1507.4 1888.4,1507.4 1891.4,1507.4 1894.4,1507.4 1897.4,1507.4 1900.4,1507.4 1903.4,1507.4 1906.4,1507.4 1909.4,1507.4 1912.4,1507.4 1915.4,1507.4 1918.4,1507.4 1921.4,1507.4 1924.4,1507.4 1927.4,1507.4 1930.4,1507.5 1933.4,1507.5 1936.4,1507.5 1939.4,1507.5 1942.4,1507.5 1945.4,1507.5 1948.4,1507.5 1951.4,1507.5 1954.4,1507.5 1957.4,1507.5 1960.4,1507.5 1963.4,1507.5 1966.4,1507.5 1969.4,1507.5 1972.4,1507.5 1975.4,1507.5 1978.4,1507.5 1981.4,1507.5 1984.4,1507.5 1987.4,1507.5 1990.4,1507.5 1993.4,1507.5 1996.4,1507.5 1999.4,1507.5 2002.4,1507.5 2005.4,1507.5 2008.4,1507.5 2011.4,1507.5 2014.4,1507.5 2017.4,1507.5 2020.4,1507.5 2023.4,1507.5 2026.4,1507.5 2029.4,1507.5 2032.4,1507.5 2035.4,1507.5 2038.4,1507.5 2041.4,1507.5 2044.4,1507.5 2047.4,1507.5 2050.4,1507.5 2053.4,1507.5 2056.4,1507.5 2059.4,1507.5 2062.4,1507.5 2065.4,1507.5 2068.4,1507.5 2071.4,1507.5 2074.4,1507.5 2077.4,1507.5 2080.4,1507.5 2083.4,1507.5 2086.4,1507.5 2089.4,1507.5 2092.4,1507.5 2095.4,1507.5 2098.4,1507.5 2100.0,1507.5" stroke="#008000"/>
<path d="M161.0,72.6 164.0,72.5 167.0,72.5 170.0,72.4 173.0,72.3 176.0,72.3 179.0,72.2 182.0,72.2 185.0,72.1 188.0,72.0 191.0,72.0 194.0,71.9 197.0,71.9 200.0,71.9 203.0,71.8 206.0,71.8 209.0,71.7 212.0,71.7 215.0,71.6 218.0,71.5 221.0,71.5 224.0,71.4 227.0,71.2 230.0,71.1 233.0,71.0 236.0,70.9 239.0,70.8 242.0,70.7 245.0,70.7 248.0,70.6 251.0,70.5 254.0,70.4 257.0,70.4 260.0,70.3 263.0,70.3 266.0,70.3 269.0,70.3 272.0,70.2 275.0,70.3 278.0,70.4 281.0,70.5 284.0,70.8 286.9,71.2 289.9,71.6 292.9,72.0 295.8,72.5 298.8,73.0 301.8,73.4 304.7,73.8 307.7,74.2 310.7,74.6 313.7,74.9 316.7,75.2 319.6,75.4 322.6,75.7 325.6,75.9 328.6,76.2 331.6,76.5 334.6,76.9 337.5,77.3 340.5,77.9 343.4,78.6 346.3,79.4 349.2,80.2 352.1,81.0 355.0,81.8 357.9,82.5 360.8,83.1 363.8,83.7 366.7,84.3 369.6,84.9 372.6,85.6 375.5,86.2 378.4,87.0 381.3,87.8 384.2,88.6 387.0,89.6 389.8,90.6 392.6,91.7 395.4,92.8 398.2,93.9 401.0,95.1 403.7,96.3 406.5,97.5 409.2,98.7 412.0,99.9 414.7,101.1 417.4,102.4 420.1,103.7 422.8,105.0 425.5,106.4 428.1,107.9 430.7,109.4 433.3,110.9 435.9,112.4 438.4,113.9 441.0,115.5 443.5,117.1 446.0,118.8 448.5,120.5 450.9,122.3 453.2,124.2 455.5,126.1 457.8,128.1 460.0,130.1 462.2,132.2 464.3,134.2 466.5,136.3 468.7,138.4 470.8,140.5 473.0,142.6 475.1,144.7 477.2,146.8 479.3,148.9 481.4,151.1 483.5,153.2 485.7,155.3 487.8,157.4 489.9,159.5 492.1,161.6 494.2,163.7 496.4,165.8 498.5,168.0 500.5,170.1 502.5,172.4 504.5,174.6 506.4,177.0 508.2,179.3 509.9,181.8 511.7,184.2 513.4,186.7 515.0,189.2 516.7,191.7 518.3,194.2 519.9,196.8 521.4,199.3 523.0,201.9 524.5,204.4 526.1,207.0 527.7,209.6 529.2,212.1 530.8,214.7 532.4,217.2 534.0,219.7 535.6,222.3 537.2,224.8 538.7,227.4 540.2,230.0 541.6,232.7 543.0,235.3 544.4,238.0 545.7,240.7 547.0,243.4 548.3,246.1 549.6,248.8 550.8,251.5 552.1,254.2 553.4,256.9 554.7,259.7 555.9,262.4 557.2,265.1 558.5,267.8 559.7,270.5 561.0,273.3 562.2,276.0 563.4,278.7 564.6,281.5 565.7,284.3 566.9,287.0 568.0,289.8 569.1,292.6 570.1,295.4 571.2,298.2 572.2,301.1 573.2,303.9 574.2,306.7 575.2,309.5 576.2,312.4 577.1,315.2 578.1,318.1 579.0,320.9 580.0,323.8 580.9,326.6 581.8,329.5 582.8,332.3 583.7,335.2 584.7,338.0 585.6,340.9 586.6,343.7 587.5,346.5 588.5,349.4 589.4,352.2 590.4,355.1 591.3,357.9 592.3,360.8 593.2,363.6 594.1,366.5 595.1,369.3 596.0,372.2 597.0,375.0 597.9,377.9 598.9,380.7 599.8,383.5 600.8,386.4 601.8,389.2 602.7,392.1 603.7,394.9 604.6,397.8 605.5,400.6 606.5,403.5 607.3,406.3 608.2,409.2 609.0,412.1 609.8,415.0 610.5,417.9 611.2,420.8 611.9,423.7 612.6,426.7 613.3,429.6 613.9,432.5 614.5,435.4 615.1,438.4 615.7,441.3 616.2,444.3 616.8,447.2 617.3,450.2 617.9,453.1 618.4,456.1 619.0,459.0 619.5,462.0 620.1,464.9 620.7,467.9 621.3,470.8 621.9,473.7 622.5,476.7 623.2,479.6 623.9,482.5 624.6,485.4 625.3,488.3 626.0,491.3 626.7,494.2 627.5,497.1 628.2,500.0 628.9,502.9 629.6,505.8 630.3,508.7 631.0,511.7 631.6,514.6 632.3,517.5 632.9,520.4 633.6,523.4 634.2,526.3 634.9,529.2 635.6,532.1 636.2,535.1 636.9,538.0 637.6,540.9 638.3,543.8 639.0,546.7 639.8,549.6 640.5,552.6 641.2,555.5 641.9,558.4 642.7,561.3 643.4,564.2 644.1,567.1 644.7,570.0 645.4,573.0 646.1,575.9 646.8,578.8 647.4,581.7 648.1,584.7 648.7,587.6 649.4,590.5 650.0,593.5 650.7,596.4 651.3,599.3 652.0,602.2 652.6,605.2 653.3,608.1 653.9,611.0 654.6,614.0 655.2,616.9 655.9,619.8 656.5,622.8 657.2,625.7 657.8,628.6 658.4,631.5 659.1,634.5 659.7,637.4 660.4,640.3 661.0,643.3 661.7,646.2 662.4,649.1 663.0,652.0 663.7,655.0 664.3,657.9 665.0,660.8 665.7,663.7 666.3,666.7 667.0,669.6 667.7,672.5 668.4,675.4 669.0,678.4 669.7,681.3 670.4,684.2 671.1,687.1 671.7,690.0 672.4,693.0 673.0,695.9 673.7,698.8 674.3,701.8 674.9,704.7 675.5,707.6 676.1,710.6 676.6,713.5 677.2,716.5 677.8,719.4 678.3,722.4 678.9,725.3 679.4,728.3 679.9,731.2 680.5,734.2 681.0,737.1 681.5,740.1 682.0,743.1 682.5,746.0 683.0,749.0 683.5,751.9 684.0,754.9 684.5,757.8 685.1,760.8 685.6,763.7 686.2,766.7 686.8,769.6 687.5,772.5 688.1,775.5 688.8,778.4 689.6,781.3 690.4,784.2 691.2,787.1 692.0,789.9 692.8,792.8 693.7,795.7 694.6,798.6 695.4,801.4 696.3,804.3 697.1,807.2 698.0,810.1 698.8,812.9 699.7,815.8 700.5,818.7 701.4,821.6 702.2,824.5 703.1,827.3 703.9,830.2 704.7,833.1 705.6,836.0 706.4,838.9 707.3,841.7 708.2,844.6 709.1,847.5 710.0,850.3 710.8,853.2 711.7,856.1 712.6,858.9 713.5,861.8 714.4,864.6 715.3,867.5 716.1,870.4 716.9,873.3 717.7,876.2 718.5,879.1 719.3,882.0 720.0,884.9 720.8,887.8 721.6,890.7 722.3,893.6 723.1,896.5 723.9,899.4 724.6,902.3 725.4,905.2 726.2,908.1 727.0,911.0 727.7,913.9 728.5,916.8 729.3,919.7 730.1,922.6 730.9,925.5 731.7,928.3 732.5,931.2 733.3,934.1 734.1,937.0 735.0,939.9 735.8,942.8 736.7,945.6 737.5,948.5 738.4,951.4 739.3,954.2 740.3,957.1 741.2,959.9 742.1,962.8 743.1,965.6 744.1,968.5 745.0,971.3 746.0,974.2 746.9,977.0 747.9,979.8 748.8,982.7 749.8,985.5 750.7,988.4 751.6,991.2 752.5,994.1 753.4,997.0 754.3,999.8 755.1,1002.7 756.0,1005.6 756.8,1008.5 757.6,1011.4 758.4,1014.2 759.2,1017.1 760.0,1020.0 760.8,1022.9 761.5,1025.8 762.3,1028.7 763.1,1031.6 763.8,1034.5 764.6,1037.4 765.4,1040.3 766.2,1043.2 767.0,1046.1 767.7,1049.0 768.5,1051.9 769.3,1054.8 770.1,1057.7 771.0,1060.6 771.8,1063.5 772.6,1066.4 773.4,1069.2 774.3,1072.1 775.1,1075.0 776.0,1077.9 776.8,1080.7 777.7,1083.6 778.6,1086.5 779.5,1089.3 780.4,1092.2 781.3,1095.1 782.2,1097.9 783.1,1100.8 784.0,1103.6 784.9,1106.5 785.8,1109.4 786.7,1112.2 787.6,1115.1 788.5,1118.0 789.4,1120.8 790.3,1123.7 791.2,1126.5 792.1,1129.4 792.9,1132.3 793.8,1135.2 794.7,1138.0 795.5,1140.9 796.4,1143.8 797.2,1146.7 798.1,1149.5 798.9,1152.4 799.8,1155.3 800.6,1158.2 801.4,1161.1 802.3,1163.9 803.1,1166.8 803.9,1169.7 804.8,1172.6 805.6,1175.5 806.4,1178.4 807.3,1181.2 808.1,1184.1 809.0,1187.0 809.8,1189.9 810.7,1192.7 811.6,1195.6 812.5,1198.4 813.5,1201.3 814.4,1204.1 815.3,1207.0 816.3,1209.8 817.2,1212.7 818.1,1215.5 819.0,1218.4 819.9,1221.3 820.8,1224.1 821.7,1227.0 822.6,1229.9 823.4,1232.7 824.3,1235.6 825.1,1238.5 825.9,1241.4 826.7,1244.3 827.5,1247.2 828.2,1250.1 829.0,1253.0 829.8,1255.9 830.7,1258.8 831.5,1261.6 832.3,1264.5 833.2,1267.4 834.1,1270.3 834.9,1273.1 835.8,1276.0 836.7,1278.9 837.5,1281.8 838.3,1284.6 839.2,1287.5 840.0,1290.4 840.8,1293.3 841.6,1296.2 842.5,1299.1 843.3,1301.9 844.2,1304.8 845.1,1307.7 846.0,1310.5 846.9,1313.4 847.9,1316.2 848.9,1319.0 849.9,1321.9 851.0,1324.7 852.0,1327.5 853.1,1330.3 854.1,1333.1 855.2,1335.9 856.3,1338.7 857.5,1341.5 858.6,1344.2 859.7,1347.0 860.9,1349.8 862.1,1352.5 863.3,1355.3 864.5,1358.0 865.7,1360.8 866.9,1363.5 868.1,1366.2 869.4,1369.0 870.7,1371.7 872.0,1374.4 873.3,1377.1 874.6,1379.8 876.0,1382.4 877.4,1385.1 878.8,1387.7 880.3,1390.4 881.7,1393.0 883.2,1395.6 884.8,1398.1 886.3,1400.7 887.9,1403.2 889.6,1405.7 891.3,1408.2 893.0,1410.7 894.8,1413.1 896.6,1415.4 898.5,1417.8 900.4,1420.1 902.3,1422.4 904.3,1424.6 906.4,1426.8 908.4,1429.0 910.5,1431.1 912.7,1433.2 914.8,1435.3 917.0,1437.4 919.2,1439.4 921.4,1441.4 923.7,1443.4 926.0,1445.3 928.3,1447.2 930.6,1449.1 933.0,1450.9 935.4,1452.7 937.9,1454.4 940.4,1456.1 942.9,1457.8 945.4,1459.4 947.9,1461.0 950.4,1462.7 952.9,1464.3 955.4,1465.9 958.0,1467.5 960.6,1469.1 963.2,1470.5 965.9,1471.9 968.6,1473.1 971.4,1474.3 974.2,1475.3 977.0,1476.3 979.9,1477.1 982.8,1478.0 985.7,1478.8 988.6,1479.5 991.5,1480.1 994.5,1480.6 997.4,1481.1 1000.4,1481.7 1003.3,1482.2 1006.3,1482.7 1009.2,1483.3 1012.2,1483.8 1015.1,1484.4 1018.1,1484.9 1021.0,1485.4 1024.0,1485.9 1026.9,1486.5 1029.9,1487.0 1032.9,1487.5 1035.8,1488.0 1038.8,1488.4 1041.8,1488.9 1044.7,1489.3 1047.7,1489.7 1050.7,1490.1 1053.6,1490.5 1056.6,1490.9 1059.6,1491.3 1062.6,1491.6 1065.5,1492.0 1068.5,1492.3 1071.5,1492.7 1074.5,1493.0 1077.5,1493.4 1080.4,1493.7 1083.4,1494.0 1086.4,1494.3 1089.4,1494.7 1092.4,1495.0 1095.4,1495.3 1098.4,1495.6 1101.3,1495.8 1104.3,1496.1 1107.3,1496.4 1110.3,1496.7 1113.3,1496.9 1116.3,1497.2 1119.3,1497.5 1122.3,1497.7 1125.2,1498.0 1128.2,1498.3 1131.2,1498.5 1134.2,1498.8 1137.2,1499.0 1140.2,1499.2 1143.2,1499.4 1146.2,1499.6 1149.2,1499.7 1152.2,1499.9 1155.2,1500.0 1158.2,1500.1 1161.2,1500.2 1164.2,1500.3 1167.2,1500.4 1170.2,1500.5 1173.2,1500.6 1176.2,1500.6 1179.2,1500.7 1182.2,1500.8 1185.2,1500.8 1188.2,1500.9 1191.2,1500.9 1194.2,1501.0 1197.2,1501.1 1200.2,1501.2 1203.2,1501.2 1206.2,1501.3 1209.2,1501.4 1212.1,1501.5 1215.1,1501.6 1218.1,1501.7 1221.1,1501.7 1224.1,1501.8 1227.1,1501.9 1230.1,1502.0 1233.1,1502.1 1236.1,1502.2 1239.1,1502.3 1242.1,1502.3 1245.1,1502.4 1248.1,1502.5 1251.1,1502.6 1254.1,1502.7 1257.1,1502.8 1260.1,1502.9 1263.1,1503.0 1266.1,1503.1 1269.1,1503.2 1272.1,1503.2 1275.1,1503.3 1278.1,1503.4 1281.1,1503.5 1284.1,1503.6 1287.1,1503.7 1290.1,1503.8 1293.1,1503.9 1296.1,1504.1 1299.1,1504.2 1302.1,1504.3 1305.1,1504.4 1308.1,1504.5 1311.1,1504.6 1314.1,1504.8 1317.1,1504.9 1320.1,1505.0 1323.1,1505.1 1326.1,1505.1 1329.1,1505.2 1332.1,1505.3 1335.1,1505.4 1338.1,1505.4 1341.1,1505.5 1344.1,1505.6 1347.1,1505.6 1350.1,1505.7 1353.1,1505.8 1356.1,1505.8 1359.1,1505.9 1362.1,1505.9 1365.1,1506.0 1368.1,1506.0 1371.1,1506.1 1374.1,1506.1 1377.1,1506.2 1380.1,1506.2 1383.1,1506.3 1386.1,1506.3 1389.1,1506.4 1392.1,1506.4 1395.1,1506.5 1398.1,1506.5 1401.1,1506.5 1404.1,1506.6 1407.1,1506.6 1410.1,1506.7 1413.1,1506.7 1416.1,1506.7 1419.1,1506.8 1422.1,1506.8 1425.1,1506.9 1428.1,1506.9 1431.1,1506.9 1434.1,1507.0 1437.1,1507.0 1440.1,1507.0 1443.1,1507.0 1446.1,1507.1 1449.1,1507.1 1452.1,1507.1 1455.1,1507.2 1458.1,1507.2 1461.1,1507.2 1464.1,1507.2 1467.1,1507.3 1470.1,1507.3 1473.1,1507.3 1476.1,1507.3 1479.1,1507.3 1482.1,1507.4 1485.1,1507.4 1488.1,1507.4 1491.1,1507.4 1494.1,1507.5 1497.1,1507.5 1500.1,1507.5 1503.1,1507.5 1506.1,1507.5 1509.1,1507.6 1512.1,1507.6 1515.1,1507.6 1518.1,1507.6 1521.1,1507.6 1524.1,1507.6 1527.1,1507.7 1530.1,1507.7 1533.1,1507.7 1536.1,1507.7 1539.1,1507.7 1542.1,1507.8 1545.1,1507.8 1548.1,1507.8 1551.1,1507.8 1554.1,1507.8 1557.1,1507.8 1560.1,1507.9 1563.1,1507.9 1566.1,1507.9 1569.1,1507.9 1572.1,1507.9 1575.1,1508.0 1578.1,1508.0 1581.1,1508.0 1584.1,1508.0 1587.1,1508.0 1590.1,1508.0 1593.1,1508.1 1596.1,1508.1 1599.1,1508.1 1602.1,1508.1 1605.1,1508.1 1608.1,1508.1 1611.1,1508.2 1614.1,1508.2 1617.1,1508.2 1620.1,1508.2 1623.1,1508.2 1626.1,1508.2 1629.1,1508.3 1632.1,1508.3 1635.1,1508.3 1638.1,1508.3 1641.1,1508.3 1644.1,1508.3 1647.1,1508.3 1650.1,1508.4 1653.1,1508.4 1656.1,1508.4 1659.1,1508.4 1662.1,1508.4 1665.1,1508.4 1668.1,1508.4 1671.1,1508.4 1674.1,1508.4 1677.1,1508.4 1680.1,1508.5 1683.1,1508.5 1686.1,1508.5 1689.1,1508.5 1692.1,1508.5 1695.1,1508.5 1698.1,1508.5 1701.1,1508.5 1704.1,1508.5 1707.1,1508.5 1710.1,1508.5 1713.1,1508.5 1716.1,1508.5 1719.1,1508.5 1722.1,1508.5 1725.1,1508.5 1728.1,1508.5 1731.1,1508.5 1734.1,1508.5 1737.1,1508.5 1740.1,1508.5 1743.1,1508.5 1746.1,1508.5 1749.1,1508.5 1752.1,1508.5 1755.1,1508.5 1758.1,1508.5 1761.1,1508.5 1764.1,1508.5 1767.1,1508.5 1770.1,1508.5 1773.1,1508.5 1776.1,1508.5 1779.1,1508.4 1782.1,1508.4 1785.1,1508.4 1788.1,1508.4 1791.1,1508.4 1794.1,1508.4 1797.1,1508.4 1800.1,1508.4 1803.1,1508.4 1806.1,1508.4 1809.1,1508.4 1812.1,1508.3 1815.1,1508.3 1818.1,1508.3 1821.1,1508.3 1824.1,1508.3 1827.1,1508.3 1830.1,1508.3 1833.1,1508.3 1836.1,1508.3 1839.1,1508.2 1842.1,1508.2 1845.1,1508.2 1848.1,1508.2 1851.1,1508.2 1854.1,1508.2 1857.1,1508.2 1860.1,1508.2 1863.1,1508.1 1866.1,1508.1 1869.1,1508.1 1872.1,1508.1 1875.1,1508.1 1878.1,1508.1 1881.1,1508.0 1884.1,1508.0 1887.1,1508.0 1890.1,1508.0 1893.1,1508.0 1896.1,1507.9 1899.1,1507.9 1902.1,1507.9 1905.1,1507.9 1908.1,1507.9 1911.1,1507.8 1914.1,1507.8 1917.1,1507.8 1920.1,1507.8 1923.1,1507.8 1926.1,1507.7 1929.1,1507.7 1932.1,1507.7 1935.1,1507.7 1938.1,1507.7 1941.1,1507.6 1944.1,1507.6 1947.1,1507.6 1950.1,1507.6 1953.1,1507.5 1956.1,1507.5 1959.1,1507.5 1962.1,1507.5 1965.1,1507.5 1968.1,1507.4 1971.1,1507.4 1974.1,1507.4 1977.1,1507.4 1980.1,1507.3 1983.1,1507.3 1986.1,1507.3 1989.1,1507.3 1992.1,1507.3 1995.1,1507.2 1998.1,1507.2 2001.1,1507.2 2004.1,1507.2 2007.1,1507.2 2010.1,1507.1 2013.1,1507.1 2016.1,1507.1 2019.1,1507.1 2022.1,1507.0 2025.1,1507.0 2028.1,1507.0 2031.1,1507.0 2034.1,1507.0 2037.1,1506.9 2040.1,1506.9 2043.1,1506.9 2046.1,1506.9 2049.1,1506.9 2052.1,1506.8 2055.1,1506.8 2058.1,1506.8 2061.1,1506.8 2064.1,1506.8 2067.1,1506.7 2070.1,1506.7 2073.1,1506.7 2076.1,1506.7 2079.1,1506.6 2082.1,1506.6 2085.1,1506.6 2088.1,1506.6 2091.1,1506.6 2094.1,1506.5 2097.1,1506.5 2100.0,1506.5" stroke="#ff0000"/>
<path d="M161.0,210.3 164.0,210.2 167.0,210.2 170.0,210.1 173.0,210.0 176.0,210.0 179.0,209.9 182.0,209.8 185.0,209.8 188.0,209.7 191.0,209.6 194.0,209.5 197.0,209.4 200.0,209.3 203.0,209.1 206.0,208.9 209.0,208.8 212.0,208.6 215.0,208.4 218.0,208.2 220.9,208.0 223.9,207.8 226.9,207.7 229.9,207.6 232.9,207.5 235.9,207.5 238.9,207.5 241.9,207.6 244.9,207.6 247.9,207.7 250.9,207.9 253.9,208.0 256.9,208.2 259.9,208.3 262.9,208.5 265.9,208.7 268.9,208.8 271.9,209.0 274.9,209.2 277.9,209.4 280.9,209.6 283.9,209.8 286.9,210.1 289.8,210.3 292.8,210.6 295.8,210.9 298.8,211.1 301.8,211.4 304.8,211.7 307.8,212.0 310.8,212.4 313.7,212.7 316.7,213.0 319.7,213.3 322.7,213.6 325.7,213.9 328.7,214.0 331.7,214.0 334.7,213.9 337.7,213.7 340.6,213.5 343.6,213.6 346.5,214.3 349.2,215.6 351.6,217.4 353.8,219.3 356.3,221.0 359.0,222.3 361.9,223.0 364.9,223.5 367.8,223.9 370.8,224.1 373.8,224.4 376.8,224.6 379.8,224.8 382.8,225.1 385.8,225.5 388.7,225.9 391.7,226.2 394.7,226.7 397.7,227.1 400.6,227.7 403.5,228.4 406.4,229.1 409.3,230.0 412.2,230.9 415.0,231.8 417.9,232.8 420.7,233.6 423.6,234.5 426.5,235.3 429.4,236.1 432.3,237.0 435.1,237.9 438.0,238.8 440.8,239.8 443.6,240.8 446.4,241.9 449.2,243.0 452.0,244.1 454.8,245.3 457.5,246.5 460.2,247.7 463.0,249.0 465.7,250.3 468.3,251.6 471.0,253.0 473.7,254.4 476.3,255.8 478.9,257.3 481.5,258.8 484.1,260.3 486.7,261.9 489.2,263.4 491.8,265.0 494.3,266.6 496.8,268.3 499.3,269.9 501.8,271.6 504.3,273.3 506.7,275.0 509.2,276.8 511.6,278.6 514.0,280.3 516.4,282.2 518.8,284.0 521.1,285.8 523.5,287.7 525.8,289.6 528.1,291.5 530.4,293.5 532.5,295.5 534.7,297.7 536.7,299.9 538.6,302.1 540.6,304.4 542.6,306.6 544.7,308.8 546.7,311.0 548.7,313.2 550.7,315.5 552.6,317.8 554.5,320.1 556.3,322.5 558.1,324.9 559.9,327.3 561.7,329.6 563.6,332.0 565.4,334.4 567.1,336.8 568.9,339.3 570.6,341.7 572.2,344.2 573.8,346.8 575.3,349.4 576.8,352.0 578.2,354.6 579.5,357.3 580.9,360.0 582.2,362.7 583.5,365.4 584.8,368.0 586.2,370.7 587.5,373.4 588.8,376.1 590.2,378.8 591.5,381.5 592.8,384.2 594.1,386.9 595.5,389.6 596.8,392.3 598.0,395.0 599.3,397.7 600.5,400.4 601.7,403.2 602.8,406.0 604.0,408.8 605.1,411.5 606.1,414.3 607.2,417.2 608.2,420.0 609.3,422.8 610.3,425.6 611.3,428.4 612.4,431.2 613.4,434.1 614.4,436.9 615.3,439.7 616.3,442.6 617.2,445.4 618.2,448.3 619.1,451.1 620.0,454.0 620.9,456.8 621.8,459.7 622.7,462.6 623.6,465.4 624.5,468.3 625.4,471.1 626.3,474.0 627.3,476.8 628.3,479.7 629.2,482.5 630.2,485.3 631.2,488.2 632.1,491.0 633.1,493.9 634.0,496.7 634.8,499.6 635.6,502.5 636.4,505.4 637.1,508.3 637.8,511.2 638.5,514.1 639.2,517.0 639.9,520.0 640.6,522.9 641.3,525.8 642.0,528.7 642.7,531.6 643.4,534.5 644.2,537.4 644.9,540.4 645.6,543.3 646.3,546.2 647.1,549.1 647.8,552.0 648.5,554.9 649.3,557.8 650.0,560.7 650.7,563.6 651.4,566.5 652.1,569.5 652.8,572.4 653.5,575.3 654.2,578.2 654.9,581.1 655.6,584.1 656.2,587.0 656.9,589.9 657.5,592.9 658.1,595.8 658.7,598.7 659.3,601.7 659.9,604.6 660.5,607.6 661.0,610.5 661.6,613.5 662.2,616.4 662.7,619.3 663.3,622.3 663.9,625.2 664.4,628.2 665.0,631.1 665.5,634.1 666.1,637.0 666.6,640.0 667.2,642.9 667.7,645.9 668.3,648.8 668.9,651.8 669.4,654.7 670.0,657.7 670.5,660.6 671.1,663.6 671.6,666.5 672.2,669.5 672.7,672.4 673.3,675.4 673.8,678.3 674.3,681.3 674.8,684.2 675.3,687.2 675.7,690.2 676.2,693.1 676.7,696.1 677.2,699.0 677.7,702.0 678.3,704.9 678.9,707.9 679.5,710.8 680.1,713.7 680.8,716.6 681.6,719.5 682.3,722.5 682.9,725.4 683.6,728.3 684.2,731.2 684.8,734.2 685.3,737.1 685.8,740.1 686.3,743.0 686.8,746.0 687.3,749.0 687.8,751.9 688.3,754.9 688.7,757.8 689.2,760.8 689.7,763.8 690.2,766.7 690.7,769.7 691.2,772.6 691.8,775.6 692.3,778.5 692.8,781.5 693.3,784.4 693.9,787.4 694.4,790.3 695.0,793.3 695.5,796.2 696.1,799.2 696.7,802.1 697.3,805.1 697.9,808.0 698.5,810.9 699.1,813.9 699.7,816.8 700.2,819.8 700.8,822.7 701.4,825.6 702.0,828.6 702.6,831.5 703.2,834.5 703.8,837.4 704.4,840.4 705.0,843.3 705.5,846.2 706.1,849.2 706.6,852.1 707.2,855.1 707.7,858.0 708.2,861.0 708.8,864.0 709.3,866.9 709.8,869.9 710.3,872.8 710.9,875.8 711.4,878.7 712.0,881.7 712.5,884.6 713.1,887.6 713.7,890.5 714.3,893.4 714.8,896.4 715.4,899.3 716.0,902.3 716.6,905.2 717.2,908.1 717.8,911.1 718.5,914.0 719.1,917.0 719.7,919.9 720.3,922.8 720.9,925.8 721.6,928.7 722.2,931.6 722.8,934.6 723.4,937.5 724.0,940.4 724.7,943.4 725.3,946.3 725.9,949.2 726.6,952.2 727.2,955.1 727.9,958.0 728.5,960.9 729.2,963.9 729.9,966.8 730.6,969.7 731.4,972.6 732.1,975.5 732.8,978.4 733.6,981.3 734.4,984.2 735.1,987.1 735.9,990.0 736.7,992.9 737.5,995.8 738.3,998.7 739.0,1001.6 739.7,1004.5 740.4,1007.4 741.1,1010.4 741.8,1013.3 742.4,1016.2 743.0,1019.2 743.7,1022.1 744.3,1025.0 745.0,1027.9 745.6,1030.9 746.3,1033.8 747.0,1036.7 747.7,1039.6 748.4,1042.5 749.2,1045.4 750.0,1048.3 750.8,1051.2 751.6,1054.1 752.4,1057.0 753.2,1059.9 754.0,1062.8 754.8,1065.7 755.7,1068.5 756.5,1071.4 757.4,1074.3 758.2,1077.2 759.1,1080.0 760.0,1082.9 760.9,1085.8 761.8,1088.6 762.7,1091.5 763.6,1094.3 764.6,1097.2 765.5,1100.0 766.5,1102.9 767.5,1105.7 768.5,1108.5 769.5,1111.3 770.5,1114.2 771.6,1117.0 772.7,1119.8 773.8,1122.6 774.9,1125.3 776.0,1128.1 777.2,1130.9 778.4,1133.6 779.6,1136.4 780.8,1139.1 782.0,1141.9 783.3,1144.6 784.6,1147.3 785.8,1150.0 787.2,1152.7 788.5,1155.4 789.8,1158.1 791.2,1160.8 792.5,1163.4 794.0,1166.1 795.4,1168.7 796.9,1171.3 798.4,1173.9 799.9,1176.5 801.5,1179.0 803.1,1181.5 804.8,1184.0 806.5,1186.5 808.2,1188.9 810.0,1191.3 811.8,1193.7 813.6,1196.1 815.5,1198.5 817.3,1200.8 819.2,1203.2 821.1,1205.5 823.0,1207.8 824.9,1210.1 826.8,1212.5 828.7,1214.8 830.5,1217.2 832.3,1219.6 834.1,1222.0 835.8,1224.4 837.5,1226.9 839.2,1229.4 840.9,1231.9 842.5,1234.4 844.2,1236.9 845.8,1239.4 847.5,1241.9 849.2,1244.4 850.9,1246.8 852.6,1249.3 854.3,1251.8 856.1,1254.2 857.8,1256.6 859.6,1259.0 861.4,1261.5 863.1,1263.9 864.9,1266.3 866.7,1268.7 868.4,1271.2 870.2,1273.6 871.9,1276.0 873.6,1278.5 875.3,1281.0 877.0,1283.5 878.6,1286.0 880.2,1288.5 881.8,1291.1 883.4,1293.6 884.9,1296.2 886.4,1298.8 887.9,1301.4 889.3,1304.0 890.7,1306.7 892.1,1309.4 893.4,1312.0 894.7,1314.7 896.0,1317.5 897.3,1320.2 898.5,1322.9 899.8,1325.6 901.0,1328.4 902.2,1331.1 903.5,1333.8 904.7,1336.6 906.0,1339.3 907.2,1342.0 908.5,1344.7 909.7,1347.5 911.0,1350.2 912.3,1352.9 913.6,1355.6 914.9,1358.3 916.2,1361.0 917.5,1363.7 918.9,1366.4 920.2,1369.0 921.6,1371.7 922.9,1374.4 924.3,1377.1 925.6,1379.8 926.9,1382.5 928.3,1385.1 929.6,1387.8 931.0,1390.5 932.3,1393.2 933.7,1395.8 935.1,1398.5 936.5,1401.1 938.0,1403.8 939.4,1406.4 940.9,1409.0 942.5,1411.6 944.0,1414.1 945.6,1416.7 947.2,1419.2 948.9,1421.7 950.5,1424.2 952.2,1426.7 953.9,1429.2 955.6,1431.6 957.3,1434.1 959.1,1436.5 960.8,1439.0 962.5,1441.4 964.2,1443.9 966.0,1446.3 967.7,1448.7 969.5,1451.2 971.3,1453.5 973.2,1455.9 975.1,1458.2 977.1,1460.4 979.2,1462.6 981.3,1464.7 983.4,1466.8 985.7,1468.8 987.9,1470.8 990.2,1472.7 992.6,1474.6 995.0,1476.4 997.4,1478.1 999.9,1479.8 1002.4,1481.4 1005.0,1482.9 1007.6,1484.4 1010.3,1485.7 1013.0,1487.0 1015.7,1488.3 1018.4,1489.6 1021.2,1490.8 1023.9,1492.0 1026.7,1493.2 1029.5,1494.3 1032.3,1495.3 1035.1,1496.3 1038.0,1497.2 1040.9,1498.1 1043.8,1498.9 1046.7,1499.6 1049.6,1500.3 1052.5,1500.9 1055.5,1501.5 1058.4,1502.1 1061.3,1502.7 1064.3,1503.2 1067.2,1503.7 1070.2,1504.2 1073.2,1504.7 1076.1,1505.2 1079.1,1505.7 1082.1,1506.2 1085.0,1506.6 1088.0,1507.0 1091.0,1507.4 1093.9,1507.8 1096.9,1508.2 1099.9,1508.6 1102.9,1508.9 1105.9,1509.2 1108.8,1509.5 1111.8,1509.8 1114.8,1510.1 1117.8,1510.3 1120.8,1510.6 1123.8,1510.8 1126.8,1511.0 1129.8,1511.1 1132.8,1511.3 1135.8,1511.4 1138.8,1511.5 1141.8,1511.6 1144.8,1511.7 1147.8,1511.8 1150.8,1511.9 1153.8,1512.1 1156.8,1512.2 1159.7,1512.4 1162.7,1512.8 1165.7,1513.0 1168.7,1513.2 1171.7,1513.3 1174.7,1513.4 1177.7,1513.5 1180.7,1513.6 1183.7,1513.6 1186.7,1513.7 1189.7,1513.7 1192.7,1513.8 1195.7,1513.8 1198.7,1513.8 1201.7,1513.8 1204.7,1513.9 1207.7,1513.9 1210.7,1513.9 1213.7,1513.9 1216.7,1514.0 1219.7,1514.0 1222.7,1514.0 1225.7,1514.0 1228.7,1514.0 1231.7,1514.0 1234.7,1514.0 1237.7,1514.0 1240.7,1514.1 1243.7,1514.1 1246.7,1514.1 1249.7,1514.1 1252.7,1514.1 1255.7,1514.1 1258.7,1514.1 1261.7,1514.1 1264.7,1514.1 1267.7,1514.1 1270.7,1514.1 1273.7,1514.1 1276.7,1514.2 1279.7,1514.2 1282.7,1514.2 1285.7,1514.2 1288.7,1514.2 1291.7,1514.2 1294.7,1514.2 1297.7,1514.2 1300.7,1514.2 1303.7,1514.2 1306.7,1514.2 1309.7,1514.2 1312.7,1514.2 1315.7,1514.2 1318.7,1514.2 1321.7,1514.2 1324.7,1514.2 1327.7,1514.2 1330.7,1514.2 1333.7,1514.2 1336.7,1514.2 1339.7,1514.2 1342.7,1514.2 1345.7,1514.2 1348.7,1514.2 1351.7,1514.3 1354.7,1514.3 1357.7,1514.3 1360.7,1514.3 1363.7,1514.3 1366.7,1514.3 1369.7,1514.3 1372.7,1514.3 1375.7,1514.3 1378.7,1514.3 1381.7,1514.3 1384.7,1514.3 1387.7,1514.3 1390.7,1514.3 1393.7,1514.3 1396.7,1514.3 1399.7,1514.3 1402.7,1514.3 1405.7,1514.3 1408.7,1514.3 1411.7,1514.3 1414.7,1514.3 1417.7,1514.3 1420.7,1514.3 1423.7,1514.3 1426.7,1514.3 1429.7,1514.3 1432.7,1514.3 1435.7,1514.3 1438.7,1514.3 1441.7,1514.3 1444.7,1514.3 1447.7,1514.3 1450.7,1514.3 1453.7,1514.3 1456.7,1514.3 1459.7,1514.3 1462.7,1514.3 1465.7,1514.3 1468.7,1514.3 1471.7,1514.3 1474.7,1514.3 1477.7,1514.3 1480.7,1514.3 1483.7,1514.3 1486.7,1514.3 1489.7,1514.3 1492.7,1514.3 1495.7,1514.3 1498.7,1514.2 1501.7,1514.2 1504.7,1514.2 1507.7,1514.2 1510.7,1514.2 1513.7,1514.2 1516.7,1514.2 1519.7,1514.2 1522.7,1514.2 1525.7,1514.2 1528.7,1514.2 1531.7,1514.2 1534.7,1514.2 1537.7,1514.2 1540.7,1514.2 1543.7,1514.2 1546.7,1514.2 1549.7,1514.2 1552.7,1514.2 1555.7,1514.2 1558.7,1514.2 1561.7,1514.1 1564.7,1514.1 1567.7,1514.1 1570.7,1514.1 1573.7,1514.1 1576.7,1514.1 1579.7,1514.1 1582.7,1514.1 1585.7,1514.1 1588.7,1514.1 1591.7,1514.0 1594.7,1514.0 1597.7,1514.0 1600.7,1514.0 1603.7,1514.0 1606.7,1513.9 1609.7,1513.9 1612.7,1513.9 1615.7,1513.9 1618.7,1513.8 1621.7,1513.8 1624.7,1513.8 1627.7,1513.7 1630.7,1513.6 1633.7,1513.6 1636.7,1513.4 1639.7,1513.3 1641.9,1512.6 1644.0,1511.9 1647.0,1511.7 1650.0,1511.5 1653.0,1511.4 1656.0,1511.3 1659.0,1511.2 1662.0,1511.1 1665.0,1511.0 1668.0,1510.9 1671.0,1510.8 1674.0,1510.7 1677.0,1510.6 1680.0,1510.5 1683.0,1510.4 1686.0,1510.3 1689.0,1510.2 1692.0,1510.2 1695.0,1510.1 1698.0,1510.0 1701.0,1509.9 1704.0,1509.8 1707.0,1509.7 1710.0,1509.6 1713.0,1509.5 1716.0,1509.5 1719.0,1509.4 1722.0,1509.3 1725.0,1509.2 1728.0,1509.1 1731.0,1509.0 1734.0,1508.9 1737.0,1508.9 1740.0,1508.8 1743.0,1508.7 1746.0,1508.6 1749.0,1508.5 1752.0,1508.4 1755.0,1508.4 1758.0,1508.3 1761.0,1508.2 1764.0,1508.1 1767.0,1508.0 1769.9,1507.9 1772.9,1507.9 1775.9,1507.8 1778.9,1507.7 1781.9,1507.6 1784.9,1507.5 1787.9,1507.5 1790.9,1507.4 1793.9,1507.3 1796.9,1507.2 1799.9,1507.2 1802.9,1507.1 1805.9,1507.0 1808.9,1506.9 1811.9,1506.9 1814.9,1506.8 1817.9,1506.7 1820.9,1506.7 1823.9,1506.6 1826.9,1506.6 1829.9,1506.5 1832.9,1506.4 1835.9,1506.4 1838.9,1506.3 1841.9,1506.3 1844.9,1506.2 1847.9,1506.2 1850.9,1506.1 1853.9,1506.1 1856.9,1506.0 1859.9,1506.0 1862.9,1505.9 1865.9,1505.9 1868.9,1505.8 1871.9,1505.8 1874.9,1505.7 1877.9,1505.7 1880.9,1505.7 1883.9,1505.6 1886.9,1505.6 1889.9,1505.5 1892.9,1505.5 1895.9,1505.4 1898.9,1505.4 1901.9,1505.4 1904.9,1505.3 1907.9,1505.3 1910.9,1505.2 1913.9,1505.2 1916.9,1505.2 1919.9,1505.1 1922.9,1505.1 1925.9,1505.1 1928.9,1505.0 1931.9,1505.0 1934.9,1504.9 1937.9,1504.9 1940.9,1504.9 1943.9,1504.8 1946.9,1504.8 1949.9,1504.8 1952.9,1504.7 1955.9,1504.7 1958.9,1504.6 1961.9,1504.6 1964.9,1504.6 1967.9,1504.5 1970.9,1504.5 1973.9,1504.5 1976.9,1504.4 1979.9,1504.4 1982.9,1504.4 1985.9,1504.3 1988.9,1504.3 1991.9,1504.2 1994.9,1504.2 1997.9,1504.2 2000.9,1504.1 2003.9,1504.1 2006.9,1504.1 2009.9,1504.0 2012.9,1504.0 2015.9,1504.0 2018.9,1503.9 2021.9,1503.9 2024.9,1503.9 2027.9,1503.8 2030.9,1503.8 2033.9,1503.8 2036.9,1503.7 2039.9,1503.7 2042.9,1503.7 2045.9,1503.6 2048.9,1503.6 2051.9,1503.6 2054.9,1503.5 2057.9,1503.5 2060.9,1503.5 2063.9,1503.4 2066.9,1503.4 2069.9,1503.3 2072.9,1503.3 2075.9,1503.3 2078.9,1503.2 2081.9,1503.2 2084.9,1503.2 2087.9,1503.1 2090.9,1503.1 2093.9,1503.1 2096.9,1503.0 2099.9,1503.0 2100.0,1503.0" stroke="#8000ff"/>
</g>
<g font-family="'Liberation Sans', Arial, sans-serif" font-size="80" text-anchor="middle" fill="#000">
<text transform="translate(465.9,1624.3) scale(1,1.03)">400</text>
<text transform="translate(873.9,1624.3) scale(1,1.03)">500</text>
<text transform="translate(1281.9,1624.3) scale(1,1.03)">600</text>
<text transform="translate(1689.9,1624.3) scale(1,1.03)">700</text>
<text transform="translate(2097.9,1624.3) scale(1,1.03)">800</text>
</g>
<text font-family="'Liberation Sans', Arial, sans-serif" font-size="94.8" fill="#000" transform="translate(749.4,1719.2)">Wavelength ( nm )</text>
<text font-family="'Liberation Sans', Arial, sans-serif" font-size="94.8" fill="#000" transform="translate(109.9,1094) rotate(-90)">Intensity ( a.u.)</text>
<rect x="1437.9" y="90.9" width="601.6" height="684.6" fill="none" stroke="#000" stroke-width="2.3"/>
<rect x="1468" y="141.15" width="183.5" height="6.5" fill="#000000"/>
<text font-family="'Liberation Sans', Arial, sans-serif" font-size="80" fill="#000" transform="translate(1669.5,172.3) scale(1,1.045)">EG0-H</text>
<rect x="1468" y="238.85" width="183.5" height="6.5" fill="#800000"/>
<text font-family="'Liberation Sans', Arial, sans-serif" font-size="80" fill="#000" transform="translate(1669.5,270.0) scale(1,1.045)">EG0+H</text>
<rect x="1468" y="336.55" width="183.5" height="6.5" fill="#0000ff"/>
<text font-family="'Liberation Sans', Arial, sans-serif" font-size="80" fill="#000" transform="translate(1669.5,367.7) scale(1,1.045)">EG25+H</text>
<rect x="1468" y="434.25" width="183.5" height="6.5" fill="#ff00ff"/>
<text font-family="'Liberation Sans', Arial, sans-serif" font-size="80" fill="#000" transform="translate(1669.5,465.4) scale(1,1.045)">EG50+H</text>
<rect x="1468" y="531.95" width="183.5" height="6.5" fill="#008000"/>
<text font-family="'Liberation Sans', Arial, sans-serif" font-size="80" fill="#000" transform="translate(1669.5,563.1) scale(1,1.045)">EG75+H</text>
<rect x="1468" y="629.65" width="183.5" height="6.5" fill="#ff0000"/>
<text font-family="'Liberation Sans', Arial, sans-serif" font-size="80" fill="#000" transform="translate(1669.5,660.8) scale(1,1.045)">EG100+H</text>
<rect x="1468" y="727.35" width="183.5" height="6.5" fill="#8000ff"/>
<text font-family="'Liberation Sans', Arial, sans-serif" font-size="80" fill="#000" transform="translate(1669.5,758.5) scale(1,1.045)">EG100-H</text>
</svg>
</body></html>
